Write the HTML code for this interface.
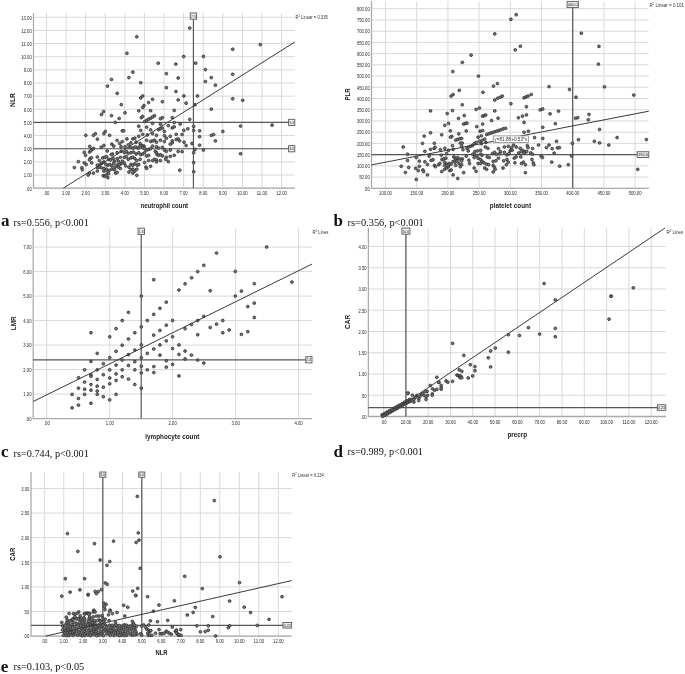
<!DOCTYPE html><html><head><meta charset="utf-8"><style>
html,body{margin:0;padding:0;background:#fff;width:685px;height:674px;overflow:hidden}
svg{display:block;filter:blur(0.3px)}
text{font-family:"Liberation Sans",sans-serif}
.tk{font-size:5px;fill:#262626}
.rl{font-size:4.4px;fill:#222}
.eq{font-size:5.6px;fill:#333}
.r2{font-size:4.6px;fill:#333}
.at{font-size:6.4px;font-weight:bold;fill:#222}
.cl{font-family:"Liberation Serif",serif;font-size:17px;font-weight:bold;fill:#111}
.ct{font-family:"Liberation Serif",serif;font-size:11px;fill:#111}
</style></head><body><svg width="685" height="674" viewBox="0 0 685 674">
<rect width="100%" height="100%" fill="#fff"/>
<line x1="46.5" y1="13" x2="46.5" y2="188.2" stroke="#d9d9d9" stroke-width="1"/>
<line x1="66.09" y1="13" x2="66.09" y2="188.2" stroke="#d9d9d9" stroke-width="1"/>
<line x1="85.68" y1="13" x2="85.68" y2="188.2" stroke="#d9d9d9" stroke-width="1"/>
<line x1="105.27" y1="13" x2="105.27" y2="188.2" stroke="#d9d9d9" stroke-width="1"/>
<line x1="124.86" y1="13" x2="124.86" y2="188.2" stroke="#d9d9d9" stroke-width="1"/>
<line x1="144.45" y1="13" x2="144.45" y2="188.2" stroke="#d9d9d9" stroke-width="1"/>
<line x1="164.04" y1="13" x2="164.04" y2="188.2" stroke="#d9d9d9" stroke-width="1"/>
<line x1="183.63" y1="13" x2="183.63" y2="188.2" stroke="#d9d9d9" stroke-width="1"/>
<line x1="203.22" y1="13" x2="203.22" y2="188.2" stroke="#d9d9d9" stroke-width="1"/>
<line x1="222.81" y1="13" x2="222.81" y2="188.2" stroke="#d9d9d9" stroke-width="1"/>
<line x1="242.4" y1="13" x2="242.4" y2="188.2" stroke="#d9d9d9" stroke-width="1"/>
<line x1="261.99" y1="13" x2="261.99" y2="188.2" stroke="#d9d9d9" stroke-width="1"/>
<line x1="281.58" y1="13" x2="281.58" y2="188.2" stroke="#d9d9d9" stroke-width="1"/>
<line x1="33.5" y1="188.2" x2="294.8" y2="188.2" stroke="#d9d9d9" stroke-width="1"/>
<line x1="33.5" y1="175.05" x2="294.8" y2="175.05" stroke="#d9d9d9" stroke-width="1"/>
<line x1="33.5" y1="161.9" x2="294.8" y2="161.9" stroke="#d9d9d9" stroke-width="1"/>
<line x1="33.5" y1="148.75" x2="294.8" y2="148.75" stroke="#d9d9d9" stroke-width="1"/>
<line x1="33.5" y1="135.6" x2="294.8" y2="135.6" stroke="#d9d9d9" stroke-width="1"/>
<line x1="33.5" y1="122.45" x2="294.8" y2="122.45" stroke="#d9d9d9" stroke-width="1"/>
<line x1="33.5" y1="109.3" x2="294.8" y2="109.3" stroke="#d9d9d9" stroke-width="1"/>
<line x1="33.5" y1="96.15" x2="294.8" y2="96.15" stroke="#d9d9d9" stroke-width="1"/>
<line x1="33.5" y1="83" x2="294.8" y2="83" stroke="#d9d9d9" stroke-width="1"/>
<line x1="33.5" y1="69.85" x2="294.8" y2="69.85" stroke="#d9d9d9" stroke-width="1"/>
<line x1="33.5" y1="56.7" x2="294.8" y2="56.7" stroke="#d9d9d9" stroke-width="1"/>
<line x1="33.5" y1="43.55" x2="294.8" y2="43.55" stroke="#d9d9d9" stroke-width="1"/>
<line x1="33.5" y1="30.4" x2="294.8" y2="30.4" stroke="#d9d9d9" stroke-width="1"/>
<line x1="33.5" y1="17.25" x2="294.8" y2="17.25" stroke="#d9d9d9" stroke-width="1"/>
<path d="M33.5 13 V188.2 H294.8" fill="none" stroke="#ababab" stroke-width="1.3"/>
<text x="43.58" y="194.9" class="tk" textLength="5.84" lengthAdjust="spacingAndGlyphs">.00</text>
<text x="62" y="194.9" class="tk" textLength="8.17" lengthAdjust="spacingAndGlyphs">1.00</text>
<text x="81.59" y="194.9" class="tk" textLength="8.17" lengthAdjust="spacingAndGlyphs">2.00</text>
<text x="101.18" y="194.9" class="tk" textLength="8.17" lengthAdjust="spacingAndGlyphs">3.00</text>
<text x="120.77" y="194.9" class="tk" textLength="8.17" lengthAdjust="spacingAndGlyphs">4.00</text>
<text x="140.36" y="194.9" class="tk" textLength="8.17" lengthAdjust="spacingAndGlyphs">5.00</text>
<text x="159.95" y="194.9" class="tk" textLength="8.17" lengthAdjust="spacingAndGlyphs">6.00</text>
<text x="179.54" y="194.9" class="tk" textLength="8.17" lengthAdjust="spacingAndGlyphs">7.00</text>
<text x="199.13" y="194.9" class="tk" textLength="8.17" lengthAdjust="spacingAndGlyphs">8.00</text>
<text x="218.72" y="194.9" class="tk" textLength="8.17" lengthAdjust="spacingAndGlyphs">9.00</text>
<text x="237.15" y="194.9" class="tk" textLength="10.51" lengthAdjust="spacingAndGlyphs">10.00</text>
<text x="256.74" y="194.9" class="tk" textLength="10.51" lengthAdjust="spacingAndGlyphs">11.00</text>
<text x="276.33" y="194.9" class="tk" textLength="10.51" lengthAdjust="spacingAndGlyphs">12.00</text>
<text x="25.96" y="190.5" class="tk" textLength="5.84" lengthAdjust="spacingAndGlyphs">.00</text>
<text x="23.63" y="177.35" class="tk" textLength="8.17" lengthAdjust="spacingAndGlyphs">1.00</text>
<text x="23.63" y="164.2" class="tk" textLength="8.17" lengthAdjust="spacingAndGlyphs">2.00</text>
<text x="23.63" y="151.05" class="tk" textLength="8.17" lengthAdjust="spacingAndGlyphs">3.00</text>
<text x="23.63" y="137.9" class="tk" textLength="8.17" lengthAdjust="spacingAndGlyphs">4.00</text>
<text x="23.63" y="124.75" class="tk" textLength="8.17" lengthAdjust="spacingAndGlyphs">5.00</text>
<text x="23.63" y="111.6" class="tk" textLength="8.17" lengthAdjust="spacingAndGlyphs">6.00</text>
<text x="23.63" y="98.45" class="tk" textLength="8.17" lengthAdjust="spacingAndGlyphs">7.00</text>
<text x="23.63" y="85.3" class="tk" textLength="8.17" lengthAdjust="spacingAndGlyphs">8.00</text>
<text x="23.63" y="72.15" class="tk" textLength="8.17" lengthAdjust="spacingAndGlyphs">9.00</text>
<text x="21.29" y="59" class="tk" textLength="10.51" lengthAdjust="spacingAndGlyphs">10.00</text>
<text x="21.29" y="45.85" class="tk" textLength="10.51" lengthAdjust="spacingAndGlyphs">11.00</text>
<text x="21.29" y="32.7" class="tk" textLength="10.51" lengthAdjust="spacingAndGlyphs">12.00</text>
<text x="21.29" y="19.55" class="tk" textLength="10.51" lengthAdjust="spacingAndGlyphs">13.00</text>
<line x1="385.5" y1="1.3" x2="385.5" y2="188.3" stroke="#d9d9d9" stroke-width="1"/>
<line x1="416.7" y1="1.3" x2="416.7" y2="188.3" stroke="#d9d9d9" stroke-width="1"/>
<line x1="447.9" y1="1.3" x2="447.9" y2="188.3" stroke="#d9d9d9" stroke-width="1"/>
<line x1="479.1" y1="1.3" x2="479.1" y2="188.3" stroke="#d9d9d9" stroke-width="1"/>
<line x1="510.3" y1="1.3" x2="510.3" y2="188.3" stroke="#d9d9d9" stroke-width="1"/>
<line x1="541.5" y1="1.3" x2="541.5" y2="188.3" stroke="#d9d9d9" stroke-width="1"/>
<line x1="572.7" y1="1.3" x2="572.7" y2="188.3" stroke="#d9d9d9" stroke-width="1"/>
<line x1="603.9" y1="1.3" x2="603.9" y2="188.3" stroke="#d9d9d9" stroke-width="1"/>
<line x1="635.1" y1="1.3" x2="635.1" y2="188.3" stroke="#d9d9d9" stroke-width="1"/>
<line x1="371.5" y1="188.3" x2="648.8" y2="188.3" stroke="#d9d9d9" stroke-width="1"/>
<line x1="371.5" y1="177.08" x2="648.8" y2="177.08" stroke="#d9d9d9" stroke-width="1"/>
<line x1="371.5" y1="165.85" x2="648.8" y2="165.85" stroke="#d9d9d9" stroke-width="1"/>
<line x1="371.5" y1="154.62" x2="648.8" y2="154.62" stroke="#d9d9d9" stroke-width="1"/>
<line x1="371.5" y1="143.4" x2="648.8" y2="143.4" stroke="#d9d9d9" stroke-width="1"/>
<line x1="371.5" y1="132.18" x2="648.8" y2="132.18" stroke="#d9d9d9" stroke-width="1"/>
<line x1="371.5" y1="120.95" x2="648.8" y2="120.95" stroke="#d9d9d9" stroke-width="1"/>
<line x1="371.5" y1="109.73" x2="648.8" y2="109.73" stroke="#d9d9d9" stroke-width="1"/>
<line x1="371.5" y1="98.5" x2="648.8" y2="98.5" stroke="#d9d9d9" stroke-width="1"/>
<line x1="371.5" y1="87.28" x2="648.8" y2="87.28" stroke="#d9d9d9" stroke-width="1"/>
<line x1="371.5" y1="76.05" x2="648.8" y2="76.05" stroke="#d9d9d9" stroke-width="1"/>
<line x1="371.5" y1="64.83" x2="648.8" y2="64.83" stroke="#d9d9d9" stroke-width="1"/>
<line x1="371.5" y1="53.6" x2="648.8" y2="53.6" stroke="#d9d9d9" stroke-width="1"/>
<line x1="371.5" y1="42.38" x2="648.8" y2="42.38" stroke="#d9d9d9" stroke-width="1"/>
<line x1="371.5" y1="31.15" x2="648.8" y2="31.15" stroke="#d9d9d9" stroke-width="1"/>
<line x1="371.5" y1="19.93" x2="648.8" y2="19.93" stroke="#d9d9d9" stroke-width="1"/>
<line x1="371.5" y1="8.7" x2="648.8" y2="8.7" stroke="#d9d9d9" stroke-width="1"/>
<path d="M371.5 1.3 V188.3 H648.8" fill="none" stroke="#ababab" stroke-width="1.3"/>
<text x="379.08" y="195" class="tk" textLength="12.84" lengthAdjust="spacingAndGlyphs">100.00</text>
<text x="410.28" y="195" class="tk" textLength="12.84" lengthAdjust="spacingAndGlyphs">150.00</text>
<text x="441.48" y="195" class="tk" textLength="12.84" lengthAdjust="spacingAndGlyphs">200.00</text>
<text x="472.68" y="195" class="tk" textLength="12.84" lengthAdjust="spacingAndGlyphs">250.00</text>
<text x="503.88" y="195" class="tk" textLength="12.84" lengthAdjust="spacingAndGlyphs">300.00</text>
<text x="535.08" y="195" class="tk" textLength="12.84" lengthAdjust="spacingAndGlyphs">350.00</text>
<text x="566.28" y="195" class="tk" textLength="12.84" lengthAdjust="spacingAndGlyphs">400.00</text>
<text x="597.48" y="195" class="tk" textLength="12.84" lengthAdjust="spacingAndGlyphs">450.00</text>
<text x="628.68" y="195" class="tk" textLength="12.84" lengthAdjust="spacingAndGlyphs">500.00</text>
<text x="363.96" y="190.6" class="tk" textLength="5.84" lengthAdjust="spacingAndGlyphs">.00</text>
<text x="359.29" y="179.38" class="tk" textLength="10.51" lengthAdjust="spacingAndGlyphs">50.00</text>
<text x="356.96" y="168.15" class="tk" textLength="12.84" lengthAdjust="spacingAndGlyphs">100.00</text>
<text x="356.96" y="156.93" class="tk" textLength="12.84" lengthAdjust="spacingAndGlyphs">150.00</text>
<text x="356.96" y="145.7" class="tk" textLength="12.84" lengthAdjust="spacingAndGlyphs">200.00</text>
<text x="356.96" y="134.48" class="tk" textLength="12.84" lengthAdjust="spacingAndGlyphs">250.00</text>
<text x="356.96" y="123.25" class="tk" textLength="12.84" lengthAdjust="spacingAndGlyphs">300.00</text>
<text x="356.96" y="112.03" class="tk" textLength="12.84" lengthAdjust="spacingAndGlyphs">350.00</text>
<text x="356.96" y="100.8" class="tk" textLength="12.84" lengthAdjust="spacingAndGlyphs">400.00</text>
<text x="356.96" y="89.58" class="tk" textLength="12.84" lengthAdjust="spacingAndGlyphs">450.00</text>
<text x="356.96" y="78.35" class="tk" textLength="12.84" lengthAdjust="spacingAndGlyphs">500.00</text>
<text x="356.96" y="67.12" class="tk" textLength="12.84" lengthAdjust="spacingAndGlyphs">550.00</text>
<text x="356.96" y="55.9" class="tk" textLength="12.84" lengthAdjust="spacingAndGlyphs">600.00</text>
<text x="356.96" y="44.67" class="tk" textLength="12.84" lengthAdjust="spacingAndGlyphs">650.00</text>
<text x="356.96" y="33.45" class="tk" textLength="12.84" lengthAdjust="spacingAndGlyphs">700.00</text>
<text x="356.96" y="22.23" class="tk" textLength="12.84" lengthAdjust="spacingAndGlyphs">750.00</text>
<text x="356.96" y="11" class="tk" textLength="12.84" lengthAdjust="spacingAndGlyphs">800.00</text>
<line x1="46.8" y1="228.2" x2="46.8" y2="418.6" stroke="#d9d9d9" stroke-width="1"/>
<line x1="109.75" y1="228.2" x2="109.75" y2="418.6" stroke="#d9d9d9" stroke-width="1"/>
<line x1="172.7" y1="228.2" x2="172.7" y2="418.6" stroke="#d9d9d9" stroke-width="1"/>
<line x1="235.65" y1="228.2" x2="235.65" y2="418.6" stroke="#d9d9d9" stroke-width="1"/>
<line x1="298.6" y1="228.2" x2="298.6" y2="418.6" stroke="#d9d9d9" stroke-width="1"/>
<line x1="33.2" y1="418.6" x2="312" y2="418.6" stroke="#d9d9d9" stroke-width="1"/>
<line x1="33.2" y1="394.1" x2="312" y2="394.1" stroke="#d9d9d9" stroke-width="1"/>
<line x1="33.2" y1="369.6" x2="312" y2="369.6" stroke="#d9d9d9" stroke-width="1"/>
<line x1="33.2" y1="345.1" x2="312" y2="345.1" stroke="#d9d9d9" stroke-width="1"/>
<line x1="33.2" y1="320.6" x2="312" y2="320.6" stroke="#d9d9d9" stroke-width="1"/>
<line x1="33.2" y1="296.1" x2="312" y2="296.1" stroke="#d9d9d9" stroke-width="1"/>
<line x1="33.2" y1="271.6" x2="312" y2="271.6" stroke="#d9d9d9" stroke-width="1"/>
<line x1="33.2" y1="247.1" x2="312" y2="247.1" stroke="#d9d9d9" stroke-width="1"/>
<path d="M33.2 228.2 V418.6 H312" fill="none" stroke="#ababab" stroke-width="1.3"/>
<text x="43.88" y="425.3" class="tk" textLength="5.84" lengthAdjust="spacingAndGlyphs">.00</text>
<text x="105.66" y="425.3" class="tk" textLength="8.17" lengthAdjust="spacingAndGlyphs">1.00</text>
<text x="168.61" y="425.3" class="tk" textLength="8.17" lengthAdjust="spacingAndGlyphs">2.00</text>
<text x="231.56" y="425.3" class="tk" textLength="8.17" lengthAdjust="spacingAndGlyphs">3.00</text>
<text x="294.51" y="425.3" class="tk" textLength="8.17" lengthAdjust="spacingAndGlyphs">4.00</text>
<text x="25.66" y="420.9" class="tk" textLength="5.84" lengthAdjust="spacingAndGlyphs">.00</text>
<text x="23.33" y="396.4" class="tk" textLength="8.17" lengthAdjust="spacingAndGlyphs">1.00</text>
<text x="23.33" y="371.9" class="tk" textLength="8.17" lengthAdjust="spacingAndGlyphs">2.00</text>
<text x="23.33" y="347.4" class="tk" textLength="8.17" lengthAdjust="spacingAndGlyphs">3.00</text>
<text x="23.33" y="322.9" class="tk" textLength="8.17" lengthAdjust="spacingAndGlyphs">4.00</text>
<text x="23.33" y="298.4" class="tk" textLength="8.17" lengthAdjust="spacingAndGlyphs">5.00</text>
<text x="23.33" y="273.9" class="tk" textLength="8.17" lengthAdjust="spacingAndGlyphs">6.00</text>
<text x="23.33" y="249.4" class="tk" textLength="8.17" lengthAdjust="spacingAndGlyphs">7.00</text>
<line x1="383.6" y1="228" x2="383.6" y2="416.5" stroke="#d9d9d9" stroke-width="1"/>
<line x1="405.9" y1="228" x2="405.9" y2="416.5" stroke="#d9d9d9" stroke-width="1"/>
<line x1="428.2" y1="228" x2="428.2" y2="416.5" stroke="#d9d9d9" stroke-width="1"/>
<line x1="450.5" y1="228" x2="450.5" y2="416.5" stroke="#d9d9d9" stroke-width="1"/>
<line x1="472.8" y1="228" x2="472.8" y2="416.5" stroke="#d9d9d9" stroke-width="1"/>
<line x1="495.1" y1="228" x2="495.1" y2="416.5" stroke="#d9d9d9" stroke-width="1"/>
<line x1="517.4" y1="228" x2="517.4" y2="416.5" stroke="#d9d9d9" stroke-width="1"/>
<line x1="539.7" y1="228" x2="539.7" y2="416.5" stroke="#d9d9d9" stroke-width="1"/>
<line x1="562" y1="228" x2="562" y2="416.5" stroke="#d9d9d9" stroke-width="1"/>
<line x1="584.3" y1="228" x2="584.3" y2="416.5" stroke="#d9d9d9" stroke-width="1"/>
<line x1="606.6" y1="228" x2="606.6" y2="416.5" stroke="#d9d9d9" stroke-width="1"/>
<line x1="628.9" y1="228" x2="628.9" y2="416.5" stroke="#d9d9d9" stroke-width="1"/>
<line x1="651.2" y1="228" x2="651.2" y2="416.5" stroke="#d9d9d9" stroke-width="1"/>
<line x1="368.4" y1="416.5" x2="665.8" y2="416.5" stroke="#d9d9d9" stroke-width="1"/>
<line x1="368.4" y1="395.25" x2="665.8" y2="395.25" stroke="#d9d9d9" stroke-width="1"/>
<line x1="368.4" y1="374" x2="665.8" y2="374" stroke="#d9d9d9" stroke-width="1"/>
<line x1="368.4" y1="352.75" x2="665.8" y2="352.75" stroke="#d9d9d9" stroke-width="1"/>
<line x1="368.4" y1="331.5" x2="665.8" y2="331.5" stroke="#d9d9d9" stroke-width="1"/>
<line x1="368.4" y1="310.25" x2="665.8" y2="310.25" stroke="#d9d9d9" stroke-width="1"/>
<line x1="368.4" y1="289" x2="665.8" y2="289" stroke="#d9d9d9" stroke-width="1"/>
<line x1="368.4" y1="267.75" x2="665.8" y2="267.75" stroke="#d9d9d9" stroke-width="1"/>
<line x1="368.4" y1="246.5" x2="665.8" y2="246.5" stroke="#d9d9d9" stroke-width="1"/>
<path d="M368.4 228 V416.5 H665.8" fill="none" stroke="#ababab" stroke-width="1.3"/>
<text x="380.68" y="424" class="tk" textLength="5.84" lengthAdjust="spacingAndGlyphs">.00</text>
<text x="400.65" y="424" class="tk" textLength="10.51" lengthAdjust="spacingAndGlyphs">10.00</text>
<text x="422.95" y="424" class="tk" textLength="10.51" lengthAdjust="spacingAndGlyphs">20.00</text>
<text x="445.25" y="424" class="tk" textLength="10.51" lengthAdjust="spacingAndGlyphs">30.00</text>
<text x="467.55" y="424" class="tk" textLength="10.51" lengthAdjust="spacingAndGlyphs">40.00</text>
<text x="489.85" y="424" class="tk" textLength="10.51" lengthAdjust="spacingAndGlyphs">50.00</text>
<text x="512.15" y="424" class="tk" textLength="10.51" lengthAdjust="spacingAndGlyphs">60.00</text>
<text x="534.45" y="424" class="tk" textLength="10.51" lengthAdjust="spacingAndGlyphs">70.00</text>
<text x="556.75" y="424" class="tk" textLength="10.51" lengthAdjust="spacingAndGlyphs">80.00</text>
<text x="579.05" y="424" class="tk" textLength="10.51" lengthAdjust="spacingAndGlyphs">90.00</text>
<text x="600.18" y="424" class="tk" textLength="12.84" lengthAdjust="spacingAndGlyphs">100.00</text>
<text x="622.48" y="424" class="tk" textLength="12.84" lengthAdjust="spacingAndGlyphs">110.00</text>
<text x="644.78" y="424" class="tk" textLength="12.84" lengthAdjust="spacingAndGlyphs">120.00</text>
<text x="360.86" y="418.8" class="tk" textLength="5.84" lengthAdjust="spacingAndGlyphs">.00</text>
<text x="360.86" y="397.55" class="tk" textLength="5.84" lengthAdjust="spacingAndGlyphs">.50</text>
<text x="358.53" y="376.3" class="tk" textLength="8.17" lengthAdjust="spacingAndGlyphs">1.00</text>
<text x="358.53" y="355.05" class="tk" textLength="8.17" lengthAdjust="spacingAndGlyphs">1.50</text>
<text x="358.53" y="333.8" class="tk" textLength="8.17" lengthAdjust="spacingAndGlyphs">2.00</text>
<text x="358.53" y="312.55" class="tk" textLength="8.17" lengthAdjust="spacingAndGlyphs">2.50</text>
<text x="358.53" y="291.3" class="tk" textLength="8.17" lengthAdjust="spacingAndGlyphs">3.00</text>
<text x="358.53" y="270.05" class="tk" textLength="8.17" lengthAdjust="spacingAndGlyphs">3.50</text>
<text x="358.53" y="248.8" class="tk" textLength="8.17" lengthAdjust="spacingAndGlyphs">4.00</text>
<line x1="44.3" y1="472" x2="44.3" y2="636.1" stroke="#d9d9d9" stroke-width="1"/>
<line x1="63.8" y1="472" x2="63.8" y2="636.1" stroke="#d9d9d9" stroke-width="1"/>
<line x1="83.3" y1="472" x2="83.3" y2="636.1" stroke="#d9d9d9" stroke-width="1"/>
<line x1="102.8" y1="472" x2="102.8" y2="636.1" stroke="#d9d9d9" stroke-width="1"/>
<line x1="122.3" y1="472" x2="122.3" y2="636.1" stroke="#d9d9d9" stroke-width="1"/>
<line x1="141.8" y1="472" x2="141.8" y2="636.1" stroke="#d9d9d9" stroke-width="1"/>
<line x1="161.3" y1="472" x2="161.3" y2="636.1" stroke="#d9d9d9" stroke-width="1"/>
<line x1="180.8" y1="472" x2="180.8" y2="636.1" stroke="#d9d9d9" stroke-width="1"/>
<line x1="200.3" y1="472" x2="200.3" y2="636.1" stroke="#d9d9d9" stroke-width="1"/>
<line x1="219.8" y1="472" x2="219.8" y2="636.1" stroke="#d9d9d9" stroke-width="1"/>
<line x1="239.3" y1="472" x2="239.3" y2="636.1" stroke="#d9d9d9" stroke-width="1"/>
<line x1="258.8" y1="472" x2="258.8" y2="636.1" stroke="#d9d9d9" stroke-width="1"/>
<line x1="278.3" y1="472" x2="278.3" y2="636.1" stroke="#d9d9d9" stroke-width="1"/>
<line x1="31" y1="636.1" x2="291.6" y2="636.1" stroke="#d9d9d9" stroke-width="1"/>
<line x1="31" y1="611.5" x2="291.6" y2="611.5" stroke="#d9d9d9" stroke-width="1"/>
<line x1="31" y1="586.9" x2="291.6" y2="586.9" stroke="#d9d9d9" stroke-width="1"/>
<line x1="31" y1="562.3" x2="291.6" y2="562.3" stroke="#d9d9d9" stroke-width="1"/>
<line x1="31" y1="537.7" x2="291.6" y2="537.7" stroke="#d9d9d9" stroke-width="1"/>
<line x1="31" y1="513.1" x2="291.6" y2="513.1" stroke="#d9d9d9" stroke-width="1"/>
<line x1="31" y1="488.5" x2="291.6" y2="488.5" stroke="#d9d9d9" stroke-width="1"/>
<path d="M31 472 V636.1 H291.6" fill="none" stroke="#ababab" stroke-width="1.3"/>
<text x="41.38" y="642.8" class="tk" textLength="5.84" lengthAdjust="spacingAndGlyphs">.00</text>
<text x="59.71" y="642.8" class="tk" textLength="8.17" lengthAdjust="spacingAndGlyphs">1.00</text>
<text x="79.21" y="642.8" class="tk" textLength="8.17" lengthAdjust="spacingAndGlyphs">2.00</text>
<text x="98.71" y="642.8" class="tk" textLength="8.17" lengthAdjust="spacingAndGlyphs">3.00</text>
<text x="118.21" y="642.8" class="tk" textLength="8.17" lengthAdjust="spacingAndGlyphs">4.00</text>
<text x="137.71" y="642.8" class="tk" textLength="8.17" lengthAdjust="spacingAndGlyphs">5.00</text>
<text x="157.21" y="642.8" class="tk" textLength="8.17" lengthAdjust="spacingAndGlyphs">6.00</text>
<text x="176.71" y="642.8" class="tk" textLength="8.17" lengthAdjust="spacingAndGlyphs">7.00</text>
<text x="196.21" y="642.8" class="tk" textLength="8.17" lengthAdjust="spacingAndGlyphs">8.00</text>
<text x="215.71" y="642.8" class="tk" textLength="8.17" lengthAdjust="spacingAndGlyphs">9.00</text>
<text x="234.05" y="642.8" class="tk" textLength="10.51" lengthAdjust="spacingAndGlyphs">10.00</text>
<text x="253.55" y="642.8" class="tk" textLength="10.51" lengthAdjust="spacingAndGlyphs">11.00</text>
<text x="273.05" y="642.8" class="tk" textLength="10.51" lengthAdjust="spacingAndGlyphs">12.00</text>
<text x="23.46" y="638.4" class="tk" textLength="5.84" lengthAdjust="spacingAndGlyphs">.00</text>
<text x="23.46" y="613.8" class="tk" textLength="5.84" lengthAdjust="spacingAndGlyphs">.50</text>
<text x="21.13" y="589.2" class="tk" textLength="8.17" lengthAdjust="spacingAndGlyphs">1.00</text>
<text x="21.13" y="564.6" class="tk" textLength="8.17" lengthAdjust="spacingAndGlyphs">1.50</text>
<text x="21.13" y="540" class="tk" textLength="8.17" lengthAdjust="spacingAndGlyphs">2.00</text>
<text x="21.13" y="515.4" class="tk" textLength="8.17" lengthAdjust="spacingAndGlyphs">2.50</text>
<text x="21.13" y="490.8" class="tk" textLength="8.17" lengthAdjust="spacingAndGlyphs">3.00</text>
<line x1="33.5" y1="122.45" x2="288.6" y2="122.45" stroke="#575757" stroke-width="1.2"/>
<line x1="33.5" y1="148.75" x2="288.6" y2="148.75" stroke="#575757" stroke-width="1.2"/>
<line x1="193.43" y1="19.2" x2="193.43" y2="188.2" stroke="#575757" stroke-width="1.2"/>
<line x1="371.5" y1="154.62" x2="637.2" y2="154.62" stroke="#575757" stroke-width="1.2"/>
<line x1="572.7" y1="7.6" x2="572.7" y2="188.3" stroke="#575757" stroke-width="1.2"/>
<line x1="33.2" y1="359.8" x2="305.8" y2="359.8" stroke="#575757" stroke-width="1.2"/>
<line x1="141.23" y1="234.4" x2="141.23" y2="418.6" stroke="#575757" stroke-width="1.2"/>
<line x1="368.4" y1="407.57" x2="657.3" y2="407.57" stroke="#575757" stroke-width="1.2"/>
<line x1="405.9" y1="234.2" x2="405.9" y2="416.5" stroke="#575757" stroke-width="1.2"/>
<line x1="31" y1="625.28" x2="282.9" y2="625.28" stroke="#575757" stroke-width="1.2"/>
<line x1="102.8" y1="477.3" x2="102.8" y2="636.1" stroke="#575757" stroke-width="1.2"/>
<line x1="141.8" y1="477.3" x2="141.8" y2="636.1" stroke="#575757" stroke-width="1.2"/>
<g fill="#7a7a7a" stroke="#2c2c2c" stroke-width="0.8">
<circle cx="136.8" cy="36.78" r="1.4"/>
<circle cx="126.94" cy="53.34" r="1.4"/>
<circle cx="189.74" cy="28.11" r="1.4"/>
<circle cx="183.7" cy="56.49" r="1.4"/>
<circle cx="203.41" cy="56.49" r="1.4"/>
<circle cx="158.21" cy="63.19" r="1.4"/>
<circle cx="175.82" cy="64.11" r="1.4"/>
<circle cx="195.66" cy="63.19" r="1.4"/>
<circle cx="205.38" cy="69.63" r="1.4"/>
<circle cx="132.85" cy="72.12" r="1.4"/>
<circle cx="232.71" cy="49.26" r="1.4"/>
<circle cx="260.3" cy="44.66" r="1.4"/>
<circle cx="111.44" cy="79.44" r="1.4"/>
<circle cx="107.5" cy="86.14" r="1.4"/>
<circle cx="117.22" cy="93.36" r="1.4"/>
<circle cx="121.29" cy="104.66" r="1.4"/>
<circle cx="103.55" cy="111.63" r="1.4"/>
<circle cx="101.45" cy="114.52" r="1.4"/>
<circle cx="111.44" cy="115.7" r="1.4"/>
<circle cx="119.19" cy="118.46" r="1.4"/>
<circle cx="115.25" cy="122.4" r="1.4"/>
<circle cx="105.26" cy="131.47" r="1.4"/>
<circle cx="122.34" cy="130.81" r="1.4"/>
<circle cx="128.91" cy="77.6" r="1.4"/>
<circle cx="140.74" cy="82.72" r="1.4"/>
<circle cx="166.36" cy="73.66" r="1.4"/>
<circle cx="178.18" cy="77.99" r="1.4"/>
<circle cx="205.38" cy="81.54" r="1.4"/>
<circle cx="211.29" cy="77.6" r="1.4"/>
<circle cx="166.36" cy="87.72" r="1.4"/>
<circle cx="175.95" cy="91.53" r="1.4"/>
<circle cx="183.83" cy="95.99" r="1.4"/>
<circle cx="197.5" cy="95.99" r="1.4"/>
<circle cx="140.74" cy="97.96" r="1.4"/>
<circle cx="142.71" cy="95.99" r="1.4"/>
<circle cx="152.56" cy="99.28" r="1.4"/>
<circle cx="148.62" cy="102.56" r="1.4"/>
<circle cx="162.42" cy="101.64" r="1.4"/>
<circle cx="178.18" cy="99.93" r="1.4"/>
<circle cx="186.07" cy="103.22" r="1.4"/>
<circle cx="144.02" cy="105.58" r="1.4"/>
<circle cx="142.71" cy="107.42" r="1.4"/>
<circle cx="195" cy="104.8" r="1.4"/>
<circle cx="211.29" cy="109.13" r="1.4"/>
<circle cx="124.97" cy="112.81" r="1.4"/>
<circle cx="138.77" cy="110.84" r="1.4"/>
<circle cx="150.59" cy="110.71" r="1.4"/>
<circle cx="174.24" cy="110.45" r="1.4"/>
<circle cx="141.39" cy="117.67" r="1.4"/>
<circle cx="142.71" cy="116.36" r="1.4"/>
<circle cx="144.68" cy="121.61" r="1.4"/>
<circle cx="146.65" cy="120.3" r="1.4"/>
<circle cx="148.62" cy="119.25" r="1.4"/>
<circle cx="150.59" cy="118.33" r="1.4"/>
<circle cx="152.56" cy="117.01" r="1.4"/>
<circle cx="154.53" cy="115.7" r="1.4"/>
<circle cx="160.45" cy="118.72" r="1.4"/>
<circle cx="162.42" cy="117.67" r="1.4"/>
<circle cx="172.27" cy="117.67" r="1.4"/>
<circle cx="189.74" cy="119.38" r="1.4"/>
<circle cx="152.56" cy="123.32" r="1.4"/>
<circle cx="160.45" cy="124.24" r="1.4"/>
<circle cx="174.24" cy="122.53" r="1.4"/>
<circle cx="180.15" cy="123.98" r="1.4"/>
<circle cx="138.77" cy="126.21" r="1.4"/>
<circle cx="146.65" cy="127.13" r="1.4"/>
<circle cx="168.33" cy="125.55" r="1.4"/>
<circle cx="172.27" cy="127.92" r="1.4"/>
<circle cx="174.24" cy="126.87" r="1.4"/>
<circle cx="140.74" cy="130.42" r="1.4"/>
<circle cx="150.59" cy="129.89" r="1.4"/>
<circle cx="158.47" cy="129.76" r="1.4"/>
<circle cx="160.45" cy="128.84" r="1.4"/>
<circle cx="162.42" cy="128.18" r="1.4"/>
<circle cx="164.39" cy="131.47" r="1.4"/>
<circle cx="183.83" cy="130.42" r="1.4"/>
<circle cx="187.77" cy="128.84" r="1.4"/>
<circle cx="193.69" cy="126.47" r="1.4"/>
<circle cx="193.69" cy="130.42" r="1.4"/>
<circle cx="199.6" cy="130.81" r="1.4"/>
<circle cx="123.66" cy="130.81" r="1.4"/>
<circle cx="232.71" cy="74.31" r="1.4"/>
<circle cx="215.36" cy="85.22" r="1.4"/>
<circle cx="232.71" cy="98.75" r="1.4"/>
<circle cx="242.69" cy="100.33" r="1.4"/>
<circle cx="240.59" cy="126.08" r="1.4"/>
<circle cx="272.12" cy="125.16" r="1.4"/>
<circle cx="222.85" cy="131.47" r="1.4"/>
<circle cx="85.82" cy="135.36" r="1.4"/>
<circle cx="93.44" cy="135.36" r="1.4"/>
<circle cx="95.41" cy="133.66" r="1.4"/>
<circle cx="103.95" cy="133.66" r="1.4"/>
<circle cx="109.6" cy="135.36" r="1.4"/>
<circle cx="97.38" cy="139.18" r="1.4"/>
<circle cx="117.09" cy="140.49" r="1.4"/>
<circle cx="122.34" cy="141.54" r="1.4"/>
<circle cx="89.76" cy="146.4" r="1.4"/>
<circle cx="93.44" cy="148.5" r="1.4"/>
<circle cx="92.12" cy="149.42" r="1.4"/>
<circle cx="101.32" cy="147.19" r="1.4"/>
<circle cx="103.95" cy="145.48" r="1.4"/>
<circle cx="111.83" cy="144.17" r="1.4"/>
<circle cx="113.8" cy="146.14" r="1.4"/>
<circle cx="119.72" cy="143.51" r="1.4"/>
<circle cx="121.03" cy="146.8" r="1.4"/>
<circle cx="84.24" cy="152.31" r="1.4"/>
<circle cx="89.5" cy="152.05" r="1.4"/>
<circle cx="90.81" cy="150.74" r="1.4"/>
<circle cx="85.55" cy="155.34" r="1.4"/>
<circle cx="107.23" cy="151" r="1.4"/>
<circle cx="112.49" cy="154.02" r="1.4"/>
<circle cx="111.18" cy="154.68" r="1.4"/>
<circle cx="117.09" cy="152.71" r="1.4"/>
<circle cx="121.03" cy="151.39" r="1.4"/>
<circle cx="97.38" cy="157.04" r="1.4"/>
<circle cx="90.15" cy="158.62" r="1.4"/>
<circle cx="91.47" cy="157.7" r="1.4"/>
<circle cx="89.5" cy="159.93" r="1.4"/>
<circle cx="78.33" cy="161.64" r="1.4"/>
<circle cx="84.24" cy="162.96" r="1.4"/>
<circle cx="86.21" cy="164.53" r="1.4"/>
<circle cx="91.73" cy="162.96" r="1.4"/>
<circle cx="99.35" cy="160.59" r="1.4"/>
<circle cx="102.64" cy="157.96" r="1.4"/>
<circle cx="104.61" cy="157.31" r="1.4"/>
<circle cx="106.58" cy="156.65" r="1.4"/>
<circle cx="108.55" cy="159.28" r="1.4"/>
<circle cx="110.52" cy="159.93" r="1.4"/>
<circle cx="113.15" cy="158.62" r="1.4"/>
<circle cx="114.46" cy="161.25" r="1.4"/>
<circle cx="117.09" cy="158.62" r="1.4"/>
<circle cx="118.4" cy="161.25" r="1.4"/>
<circle cx="120.37" cy="157.31" r="1.4"/>
<circle cx="121.03" cy="163.88" r="1.4"/>
<circle cx="122.34" cy="161.25" r="1.4"/>
<circle cx="74.39" cy="167.55" r="1.4"/>
<circle cx="81.88" cy="167.82" r="1.4"/>
<circle cx="82.27" cy="169.79" r="1.4"/>
<circle cx="97.38" cy="165.19" r="1.4"/>
<circle cx="100.01" cy="164.53" r="1.4"/>
<circle cx="101.98" cy="163.22" r="1.4"/>
<circle cx="103.95" cy="161.91" r="1.4"/>
<circle cx="105.92" cy="164.53" r="1.4"/>
<circle cx="107.89" cy="165.19" r="1.4"/>
<circle cx="109.86" cy="164.53" r="1.4"/>
<circle cx="111.83" cy="165.85" r="1.4"/>
<circle cx="113.8" cy="163.22" r="1.4"/>
<circle cx="115.12" cy="167.16" r="1.4"/>
<circle cx="117.09" cy="165.19" r="1.4"/>
<circle cx="119.06" cy="164.53" r="1.4"/>
<circle cx="97.38" cy="167.82" r="1.4"/>
<circle cx="99.35" cy="167.16" r="1.4"/>
<circle cx="101.32" cy="167.82" r="1.4"/>
<circle cx="103.95" cy="168.47" r="1.4"/>
<circle cx="106.58" cy="169.13" r="1.4"/>
<circle cx="109.2" cy="170.45" r="1.4"/>
<circle cx="111.83" cy="169.13" r="1.4"/>
<circle cx="114.46" cy="169.79" r="1.4"/>
<circle cx="97.38" cy="171.1" r="1.4"/>
<circle cx="103.95" cy="171.1" r="1.4"/>
<circle cx="107.89" cy="171.76" r="1.4"/>
<circle cx="108.55" cy="173.73" r="1.4"/>
<circle cx="89.5" cy="173.07" r="1.4"/>
<circle cx="88.18" cy="175.04" r="1.4"/>
<circle cx="93.44" cy="173.07" r="1.4"/>
<circle cx="115.77" cy="173.07" r="1.4"/>
<circle cx="117.09" cy="172.42" r="1.4"/>
<circle cx="103.29" cy="175.7" r="1.4"/>
<circle cx="104.61" cy="176.36" r="1.4"/>
<circle cx="105.92" cy="175.04" r="1.4"/>
<circle cx="107.89" cy="177.67" r="1.4"/>
<circle cx="118.4" cy="167.16" r="1.4"/>
<circle cx="120.37" cy="168.47" r="1.4"/>
<circle cx="138.77" cy="136.28" r="1.4"/>
<circle cx="142.71" cy="134.31" r="1.4"/>
<circle cx="147.31" cy="134.97" r="1.4"/>
<circle cx="152.56" cy="133.66" r="1.4"/>
<circle cx="156.5" cy="135.36" r="1.4"/>
<circle cx="164.39" cy="135.63" r="1.4"/>
<circle cx="166.36" cy="138.26" r="1.4"/>
<circle cx="170.3" cy="136.28" r="1.4"/>
<circle cx="176.21" cy="134.31" r="1.4"/>
<circle cx="182.12" cy="134.58" r="1.4"/>
<circle cx="199.6" cy="136.68" r="1.4"/>
<circle cx="211.29" cy="135.36" r="1.4"/>
<circle cx="126.94" cy="138.91" r="1.4"/>
<circle cx="132.85" cy="138.91" r="1.4"/>
<circle cx="134.82" cy="138.26" r="1.4"/>
<circle cx="146.65" cy="140.23" r="1.4"/>
<circle cx="150.59" cy="141.54" r="1.4"/>
<circle cx="152.56" cy="140.88" r="1.4"/>
<circle cx="154.53" cy="140.23" r="1.4"/>
<circle cx="156.5" cy="142.2" r="1.4"/>
<circle cx="160.45" cy="140.23" r="1.4"/>
<circle cx="164.39" cy="141.54" r="1.4"/>
<circle cx="172.27" cy="140.88" r="1.4"/>
<circle cx="170.3" cy="144.17" r="1.4"/>
<circle cx="172.27" cy="142.85" r="1.4"/>
<circle cx="176.21" cy="139.57" r="1.4"/>
<circle cx="178.18" cy="138.91" r="1.4"/>
<circle cx="179.5" cy="140.88" r="1.4"/>
<circle cx="184.09" cy="142.2" r="1.4"/>
<circle cx="186.07" cy="145.48" r="1.4"/>
<circle cx="191.98" cy="143.51" r="1.4"/>
<circle cx="199.6" cy="145.22" r="1.4"/>
<circle cx="130.88" cy="142.85" r="1.4"/>
<circle cx="136.14" cy="142.2" r="1.4"/>
<circle cx="140.08" cy="143.51" r="1.4"/>
<circle cx="142.05" cy="145.48" r="1.4"/>
<circle cx="144.02" cy="146.14" r="1.4"/>
<circle cx="124.97" cy="146.8" r="1.4"/>
<circle cx="128.26" cy="144.82" r="1.4"/>
<circle cx="130.23" cy="147.45" r="1.4"/>
<circle cx="132.85" cy="148.11" r="1.4"/>
<circle cx="135.48" cy="146.8" r="1.4"/>
<circle cx="138.11" cy="148.11" r="1.4"/>
<circle cx="140.08" cy="146.14" r="1.4"/>
<circle cx="142.71" cy="147.45" r="1.4"/>
<circle cx="144.68" cy="148.77" r="1.4"/>
<circle cx="146.65" cy="150.08" r="1.4"/>
<circle cx="148.62" cy="149.42" r="1.4"/>
<circle cx="150.59" cy="148.77" r="1.4"/>
<circle cx="152.56" cy="146.14" r="1.4"/>
<circle cx="156.5" cy="146.8" r="1.4"/>
<circle cx="158.47" cy="148.11" r="1.4"/>
<circle cx="162.42" cy="147.45" r="1.4"/>
<circle cx="164.39" cy="150.08" r="1.4"/>
<circle cx="166.36" cy="151.39" r="1.4"/>
<circle cx="170.3" cy="150.08" r="1.4"/>
<circle cx="178.18" cy="151.39" r="1.4"/>
<circle cx="182.12" cy="151.66" r="1.4"/>
<circle cx="195" cy="149.42" r="1.4"/>
<circle cx="203.41" cy="150.08" r="1.4"/>
<circle cx="193.69" cy="152.71" r="1.4"/>
<circle cx="124.31" cy="152.71" r="1.4"/>
<circle cx="126.28" cy="151.39" r="1.4"/>
<circle cx="128.26" cy="153.36" r="1.4"/>
<circle cx="130.88" cy="152.71" r="1.4"/>
<circle cx="133.51" cy="152.05" r="1.4"/>
<circle cx="136.14" cy="154.02" r="1.4"/>
<circle cx="138.77" cy="152.71" r="1.4"/>
<circle cx="140.74" cy="154.68" r="1.4"/>
<circle cx="142.71" cy="154.02" r="1.4"/>
<circle cx="144.68" cy="152.71" r="1.4"/>
<circle cx="146.65" cy="155.99" r="1.4"/>
<circle cx="148.62" cy="155.34" r="1.4"/>
<circle cx="155.19" cy="151.39" r="1.4"/>
<circle cx="156.5" cy="152.71" r="1.4"/>
<circle cx="157.16" cy="154.68" r="1.4"/>
<circle cx="158.47" cy="155.34" r="1.4"/>
<circle cx="160.45" cy="154.68" r="1.4"/>
<circle cx="162.42" cy="155.99" r="1.4"/>
<circle cx="166.36" cy="157.31" r="1.4"/>
<circle cx="170.3" cy="156.39" r="1.4"/>
<circle cx="174.24" cy="155.34" r="1.4"/>
<circle cx="124.31" cy="157.31" r="1.4"/>
<circle cx="126.28" cy="156.65" r="1.4"/>
<circle cx="128.26" cy="159.28" r="1.4"/>
<circle cx="130.88" cy="157.96" r="1.4"/>
<circle cx="132.85" cy="157.31" r="1.4"/>
<circle cx="134.82" cy="158.62" r="1.4"/>
<circle cx="136.8" cy="160.59" r="1.4"/>
<circle cx="140.08" cy="159.28" r="1.4"/>
<circle cx="144.68" cy="162.56" r="1.4"/>
<circle cx="148.62" cy="160.59" r="1.4"/>
<circle cx="152.56" cy="160.59" r="1.4"/>
<circle cx="154.53" cy="159.28" r="1.4"/>
<circle cx="156.5" cy="159.93" r="1.4"/>
<circle cx="156.5" cy="161.91" r="1.4"/>
<circle cx="160.45" cy="160.59" r="1.4"/>
<circle cx="165.7" cy="159.28" r="1.4"/>
<circle cx="168.33" cy="161.64" r="1.4"/>
<circle cx="193.69" cy="162.56" r="1.4"/>
<circle cx="124.31" cy="163.22" r="1.4"/>
<circle cx="125.63" cy="165.85" r="1.4"/>
<circle cx="128.91" cy="167.16" r="1.4"/>
<circle cx="130.88" cy="164.53" r="1.4"/>
<circle cx="132.85" cy="165.19" r="1.4"/>
<circle cx="134.82" cy="163.88" r="1.4"/>
<circle cx="137.45" cy="165.19" r="1.4"/>
<circle cx="138.77" cy="164.53" r="1.4"/>
<circle cx="145.99" cy="167.16" r="1.4"/>
<circle cx="146.65" cy="168.47" r="1.4"/>
<circle cx="150.59" cy="166.24" r="1.4"/>
<circle cx="128.91" cy="172.15" r="1.4"/>
<circle cx="130.88" cy="169.79" r="1.4"/>
<circle cx="132.85" cy="169.13" r="1.4"/>
<circle cx="132.85" cy="173.07" r="1.4"/>
<circle cx="134.82" cy="171.1" r="1.4"/>
<circle cx="136.8" cy="169.13" r="1.4"/>
<circle cx="136.8" cy="175.31" r="1.4"/>
<circle cx="179.76" cy="170.18" r="1.4"/>
<circle cx="193.69" cy="171.76" r="1.4"/>
<circle cx="213.66" cy="134.58" r="1.4"/>
<circle cx="215.36" cy="140.88" r="1.4"/>
<circle cx="240.59" cy="153.76" r="1.4"/>
<circle cx="516.18" cy="14.72" r="1.4"/>
<circle cx="510.93" cy="19.31" r="1.4"/>
<circle cx="494.77" cy="33.9" r="1.4"/>
<circle cx="520.39" cy="46.25" r="1.4"/>
<circle cx="515.26" cy="49.93" r="1.4"/>
<circle cx="471.12" cy="55.18" r="1.4"/>
<circle cx="462.31" cy="62.41" r="1.4"/>
<circle cx="581.35" cy="33.24" r="1.4"/>
<circle cx="598.98" cy="46.39" r="1.4"/>
<circle cx="452.85" cy="71.54" r="1.4"/>
<circle cx="459.29" cy="90.33" r="1.4"/>
<circle cx="453.12" cy="94.53" r="1.4"/>
<circle cx="451.15" cy="96.11" r="1.4"/>
<circle cx="430.52" cy="110.96" r="1.4"/>
<circle cx="452.46" cy="110.56" r="1.4"/>
<circle cx="447.2" cy="113.58" r="1.4"/>
<circle cx="458.5" cy="118.45" r="1.4"/>
<circle cx="448.52" cy="123.44" r="1.4"/>
<circle cx="444.84" cy="125.41" r="1.4"/>
<circle cx="478.47" cy="76.14" r="1.4"/>
<circle cx="493.45" cy="86.12" r="1.4"/>
<circle cx="497.39" cy="83.63" r="1.4"/>
<circle cx="482.94" cy="92.3" r="1.4"/>
<circle cx="494.77" cy="100.05" r="1.4"/>
<circle cx="497.79" cy="98.21" r="1.4"/>
<circle cx="500.42" cy="97.16" r="1.4"/>
<circle cx="502.39" cy="96.11" r="1.4"/>
<circle cx="510.93" cy="103.73" r="1.4"/>
<circle cx="524.07" cy="97.82" r="1.4"/>
<circle cx="526.04" cy="96.9" r="1.4"/>
<circle cx="528.01" cy="96.11" r="1.4"/>
<circle cx="531.29" cy="94.53" r="1.4"/>
<circle cx="549.03" cy="86.65" r="1.4"/>
<circle cx="462.31" cy="104.78" r="1.4"/>
<circle cx="476.11" cy="109.38" r="1.4"/>
<circle cx="479.39" cy="108.07" r="1.4"/>
<circle cx="494.77" cy="110.96" r="1.4"/>
<circle cx="526.43" cy="106.75" r="1.4"/>
<circle cx="540.23" cy="109.91" r="1.4"/>
<circle cx="542.72" cy="108.99" r="1.4"/>
<circle cx="464.28" cy="115.55" r="1.4"/>
<circle cx="482.68" cy="116.21" r="1.4"/>
<circle cx="484.39" cy="115.55" r="1.4"/>
<circle cx="485.7" cy="115.03" r="1.4"/>
<circle cx="491.61" cy="120.55" r="1.4"/>
<circle cx="498.05" cy="118.18" r="1.4"/>
<circle cx="518.42" cy="117.79" r="1.4"/>
<circle cx="522.49" cy="116.21" r="1.4"/>
<circle cx="526.43" cy="114.9" r="1.4"/>
<circle cx="550.08" cy="113.85" r="1.4"/>
<circle cx="524.07" cy="122.39" r="1.4"/>
<circle cx="463.63" cy="124.09" r="1.4"/>
<circle cx="465.6" cy="123.44" r="1.4"/>
<circle cx="466.91" cy="123.18" r="1.4"/>
<circle cx="482.68" cy="124.09" r="1.4"/>
<circle cx="598.4" cy="64.16" r="1.4"/>
<circle cx="569.5" cy="89.45" r="1.4"/>
<circle cx="604.47" cy="86.85" r="1.4"/>
<circle cx="576" cy="97.25" r="1.4"/>
<circle cx="633.81" cy="95.08" r="1.4"/>
<circle cx="558.52" cy="111.13" r="1.4"/>
<circle cx="589.01" cy="114.45" r="1.4"/>
<circle cx="575.57" cy="118.21" r="1.4"/>
<circle cx="577.74" cy="117.63" r="1.4"/>
<circle cx="588.29" cy="119.8" r="1.4"/>
<circle cx="555.34" cy="123.7" r="1.4"/>
<circle cx="430.52" cy="132.83" r="1.4"/>
<circle cx="424.21" cy="136.12" r="1.4"/>
<circle cx="441.69" cy="134.8" r="1.4"/>
<circle cx="450.36" cy="130.86" r="1.4"/>
<circle cx="451.8" cy="136.51" r="1.4"/>
<circle cx="450.49" cy="137.17" r="1.4"/>
<circle cx="458.77" cy="133.88" r="1.4"/>
<circle cx="455.74" cy="140.19" r="1.4"/>
<circle cx="457.72" cy="139.4" r="1.4"/>
<circle cx="459.69" cy="138.74" r="1.4"/>
<circle cx="403.19" cy="147.02" r="1.4"/>
<circle cx="422.5" cy="143.34" r="1.4"/>
<circle cx="434.33" cy="143.34" r="1.4"/>
<circle cx="424.87" cy="151.36" r="1.4"/>
<circle cx="430.52" cy="149.39" r="1.4"/>
<circle cx="434.07" cy="148.34" r="1.4"/>
<circle cx="435.12" cy="147.42" r="1.4"/>
<circle cx="440.37" cy="149.65" r="1.4"/>
<circle cx="444.84" cy="148.34" r="1.4"/>
<circle cx="448.52" cy="150.31" r="1.4"/>
<circle cx="452.46" cy="145.71" r="1.4"/>
<circle cx="453.12" cy="149.39" r="1.4"/>
<circle cx="460.34" cy="143.08" r="1.4"/>
<circle cx="407.53" cy="154.25" r="1.4"/>
<circle cx="416.33" cy="157.53" r="1.4"/>
<circle cx="429.2" cy="156.22" r="1.4"/>
<circle cx="441.29" cy="155.17" r="1.4"/>
<circle cx="446.55" cy="153.59" r="1.4"/>
<circle cx="407.53" cy="160.55" r="1.4"/>
<circle cx="419.35" cy="161.21" r="1.4"/>
<circle cx="424.87" cy="161.74" r="1.4"/>
<circle cx="431.04" cy="160.42" r="1.4"/>
<circle cx="433.01" cy="159.77" r="1.4"/>
<circle cx="427.5" cy="164.5" r="1.4"/>
<circle cx="441.95" cy="159.5" r="1.4"/>
<circle cx="443.92" cy="158.85" r="1.4"/>
<circle cx="445.89" cy="158.19" r="1.4"/>
<circle cx="453.77" cy="156.88" r="1.4"/>
<circle cx="455.09" cy="158.19" r="1.4"/>
<circle cx="456.4" cy="159.5" r="1.4"/>
<circle cx="457.72" cy="157.53" r="1.4"/>
<circle cx="459.69" cy="158.85" r="1.4"/>
<circle cx="401.22" cy="166.34" r="1.4"/>
<circle cx="408.71" cy="167.52" r="1.4"/>
<circle cx="419.35" cy="166.34" r="1.4"/>
<circle cx="415.67" cy="168.31" r="1.4"/>
<circle cx="418.3" cy="170.67" r="1.4"/>
<circle cx="422.9" cy="170.01" r="1.4"/>
<circle cx="423.55" cy="171.72" r="1.4"/>
<circle cx="434.46" cy="165.42" r="1.4"/>
<circle cx="435.38" cy="166.73" r="1.4"/>
<circle cx="438.66" cy="164.76" r="1.4"/>
<circle cx="439.98" cy="163.45" r="1.4"/>
<circle cx="444.58" cy="162.13" r="1.4"/>
<circle cx="446.55" cy="164.1" r="1.4"/>
<circle cx="449.18" cy="163.45" r="1.4"/>
<circle cx="451.15" cy="164.1" r="1.4"/>
<circle cx="453.12" cy="161.47" r="1.4"/>
<circle cx="455.09" cy="162.13" r="1.4"/>
<circle cx="457.06" cy="160.82" r="1.4"/>
<circle cx="459.03" cy="163.45" r="1.4"/>
<circle cx="460.34" cy="166.73" r="1.4"/>
<circle cx="405.42" cy="172.51" r="1.4"/>
<circle cx="416.33" cy="179.47" r="1.4"/>
<circle cx="427.5" cy="174.88" r="1.4"/>
<circle cx="441.69" cy="171.59" r="1.4"/>
<circle cx="444.58" cy="169.36" r="1.4"/>
<circle cx="446.55" cy="168.04" r="1.4"/>
<circle cx="448.52" cy="166.73" r="1.4"/>
<circle cx="449.83" cy="170.67" r="1.4"/>
<circle cx="451.15" cy="170.01" r="1.4"/>
<circle cx="453.12" cy="174.88" r="1.4"/>
<circle cx="457.72" cy="178.55" r="1.4"/>
<circle cx="444.58" cy="165.42" r="1.4"/>
<circle cx="447.86" cy="165.42" r="1.4"/>
<circle cx="455.74" cy="165.42" r="1.4"/>
<circle cx="466.26" cy="130.99" r="1.4"/>
<circle cx="476.77" cy="126.66" r="1.4"/>
<circle cx="480.05" cy="131.26" r="1.4"/>
<circle cx="482.68" cy="130.6" r="1.4"/>
<circle cx="524.07" cy="132.31" r="1.4"/>
<circle cx="528.4" cy="131.26" r="1.4"/>
<circle cx="542.72" cy="127.31" r="1.4"/>
<circle cx="486.62" cy="134.54" r="1.4"/>
<circle cx="488.59" cy="133.88" r="1.4"/>
<circle cx="490.56" cy="133.23" r="1.4"/>
<circle cx="492.53" cy="132.57" r="1.4"/>
<circle cx="494.5" cy="131.91" r="1.4"/>
<circle cx="496.47" cy="131.26" r="1.4"/>
<circle cx="498.45" cy="130.6" r="1.4"/>
<circle cx="500.42" cy="129.94" r="1.4"/>
<circle cx="503.04" cy="128.89" r="1.4"/>
<circle cx="505.67" cy="128.36" r="1.4"/>
<circle cx="481.36" cy="135.85" r="1.4"/>
<circle cx="478.08" cy="137.17" r="1.4"/>
<circle cx="534.58" cy="137.56" r="1.4"/>
<circle cx="542.72" cy="138.48" r="1.4"/>
<circle cx="461.66" cy="138.48" r="1.4"/>
<circle cx="484.65" cy="139.14" r="1.4"/>
<circle cx="482.02" cy="140.45" r="1.4"/>
<circle cx="479.39" cy="141.11" r="1.4"/>
<circle cx="476.11" cy="142.42" r="1.4"/>
<circle cx="474.14" cy="143.74" r="1.4"/>
<circle cx="472.17" cy="145.71" r="1.4"/>
<circle cx="470.2" cy="146.36" r="1.4"/>
<circle cx="468.23" cy="147.28" r="1.4"/>
<circle cx="466.91" cy="148.34" r="1.4"/>
<circle cx="462.31" cy="143.08" r="1.4"/>
<circle cx="461.66" cy="146.36" r="1.4"/>
<circle cx="462.97" cy="149.65" r="1.4"/>
<circle cx="485.96" cy="142.42" r="1.4"/>
<circle cx="481.36" cy="143.74" r="1.4"/>
<circle cx="487.93" cy="148.34" r="1.4"/>
<circle cx="485.31" cy="147.02" r="1.4"/>
<circle cx="480.71" cy="150.31" r="1.4"/>
<circle cx="477.42" cy="150.96" r="1.4"/>
<circle cx="474.8" cy="151.62" r="1.4"/>
<circle cx="468.23" cy="150.96" r="1.4"/>
<circle cx="498.45" cy="148.6" r="1.4"/>
<circle cx="504.36" cy="147.02" r="1.4"/>
<circle cx="508.3" cy="146.36" r="1.4"/>
<circle cx="511.58" cy="147.68" r="1.4"/>
<circle cx="513.55" cy="145.05" r="1.4"/>
<circle cx="516.18" cy="147.02" r="1.4"/>
<circle cx="520.12" cy="148.34" r="1.4"/>
<circle cx="522.75" cy="150.31" r="1.4"/>
<circle cx="525.38" cy="151.62" r="1.4"/>
<circle cx="527.35" cy="145.71" r="1.4"/>
<circle cx="528.01" cy="147.68" r="1.4"/>
<circle cx="532.61" cy="148.6" r="1.4"/>
<circle cx="538.52" cy="145.05" r="1.4"/>
<circle cx="546.4" cy="147.68" r="1.4"/>
<circle cx="549.03" cy="145.05" r="1.4"/>
<circle cx="472.82" cy="154.25" r="1.4"/>
<circle cx="474.8" cy="154.91" r="1.4"/>
<circle cx="476.77" cy="155.56" r="1.4"/>
<circle cx="480.71" cy="154.25" r="1.4"/>
<circle cx="482.02" cy="155.17" r="1.4"/>
<circle cx="487.28" cy="156.88" r="1.4"/>
<circle cx="489.25" cy="157.53" r="1.4"/>
<circle cx="492.53" cy="153.59" r="1.4"/>
<circle cx="494.5" cy="152.28" r="1.4"/>
<circle cx="496.47" cy="154.25" r="1.4"/>
<circle cx="499.76" cy="153.59" r="1.4"/>
<circle cx="500.42" cy="151.62" r="1.4"/>
<circle cx="504.36" cy="152.28" r="1.4"/>
<circle cx="506.99" cy="154.91" r="1.4"/>
<circle cx="508.96" cy="153.59" r="1.4"/>
<circle cx="510.27" cy="150.96" r="1.4"/>
<circle cx="510.93" cy="149.65" r="1.4"/>
<circle cx="512.24" cy="150.31" r="1.4"/>
<circle cx="518.81" cy="152.93" r="1.4"/>
<circle cx="521.44" cy="151.62" r="1.4"/>
<circle cx="524.07" cy="152.93" r="1.4"/>
<circle cx="526.69" cy="151.62" r="1.4"/>
<circle cx="530.64" cy="152.93" r="1.4"/>
<circle cx="532.61" cy="154.25" r="1.4"/>
<circle cx="541.15" cy="156.22" r="1.4"/>
<circle cx="542.46" cy="157.53" r="1.4"/>
<circle cx="462.31" cy="158.85" r="1.4"/>
<circle cx="466.26" cy="156.22" r="1.4"/>
<circle cx="468.88" cy="160.16" r="1.4"/>
<circle cx="469.54" cy="163.45" r="1.4"/>
<circle cx="474.14" cy="157.53" r="1.4"/>
<circle cx="478.08" cy="158.19" r="1.4"/>
<circle cx="480.71" cy="159.5" r="1.4"/>
<circle cx="482.02" cy="161.47" r="1.4"/>
<circle cx="483.99" cy="162.79" r="1.4"/>
<circle cx="486.62" cy="164.1" r="1.4"/>
<circle cx="488.59" cy="164.76" r="1.4"/>
<circle cx="478.08" cy="163.45" r="1.4"/>
<circle cx="480.71" cy="163.45" r="1.4"/>
<circle cx="493.19" cy="161.47" r="1.4"/>
<circle cx="495.82" cy="160.82" r="1.4"/>
<circle cx="498.45" cy="158.19" r="1.4"/>
<circle cx="503.7" cy="160.82" r="1.4"/>
<circle cx="506.99" cy="159.5" r="1.4"/>
<circle cx="508.3" cy="162.13" r="1.4"/>
<circle cx="506.33" cy="164.76" r="1.4"/>
<circle cx="514.21" cy="158.19" r="1.4"/>
<circle cx="516.18" cy="156.88" r="1.4"/>
<circle cx="514.87" cy="162.79" r="1.4"/>
<circle cx="520.78" cy="156.88" r="1.4"/>
<circle cx="521.44" cy="163.45" r="1.4"/>
<circle cx="523.41" cy="162.13" r="1.4"/>
<circle cx="525.38" cy="164.76" r="1.4"/>
<circle cx="531.95" cy="159.5" r="1.4"/>
<circle cx="533.26" cy="162.79" r="1.4"/>
<circle cx="533.92" cy="164.76" r="1.4"/>
<circle cx="461.66" cy="160.82" r="1.4"/>
<circle cx="461.66" cy="164.76" r="1.4"/>
<circle cx="474.14" cy="168.04" r="1.4"/>
<circle cx="476.11" cy="171.33" r="1.4"/>
<circle cx="484.65" cy="168.04" r="1.4"/>
<circle cx="486.62" cy="169.36" r="1.4"/>
<circle cx="493.19" cy="165.42" r="1.4"/>
<circle cx="494.5" cy="167.39" r="1.4"/>
<circle cx="495.16" cy="169.36" r="1.4"/>
<circle cx="493.19" cy="171.99" r="1.4"/>
<circle cx="503.04" cy="168.04" r="1.4"/>
<circle cx="463.63" cy="172.64" r="1.4"/>
<circle cx="525.38" cy="172.64" r="1.4"/>
<circle cx="599.56" cy="129.47" r="1.4"/>
<circle cx="556.49" cy="141.32" r="1.4"/>
<circle cx="578.46" cy="139.73" r="1.4"/>
<circle cx="594.36" cy="141.32" r="1.4"/>
<circle cx="599.56" cy="142.91" r="1.4"/>
<circle cx="572.39" cy="143.34" r="1.4"/>
<circle cx="608.81" cy="145.08" r="1.4"/>
<circle cx="617.05" cy="137.56" r="1.4"/>
<circle cx="646.39" cy="139.59" r="1.4"/>
<circle cx="552.16" cy="148.69" r="1.4"/>
<circle cx="557.5" cy="147.97" r="1.4"/>
<circle cx="559.38" cy="147.68" r="1.4"/>
<circle cx="554.18" cy="153.17" r="1.4"/>
<circle cx="571.52" cy="156.06" r="1.4"/>
<circle cx="551.72" cy="162.13" r="1.4"/>
<circle cx="559.67" cy="166.18" r="1.4"/>
<circle cx="568.34" cy="164.73" r="1.4"/>
<circle cx="637.72" cy="169.36" r="1.4"/>
<circle cx="216.56" cy="253.12" r="1.4"/>
<circle cx="203.79" cy="265.34" r="1.4"/>
<circle cx="197.68" cy="271.58" r="1.4"/>
<circle cx="191.58" cy="277.83" r="1.4"/>
<circle cx="185.06" cy="283.8" r="1.4"/>
<circle cx="178.95" cy="290.05" r="1.4"/>
<circle cx="210.18" cy="290.72" r="1.4"/>
<circle cx="153.7" cy="279.73" r="1.4"/>
<circle cx="266.65" cy="247.01" r="1.4"/>
<circle cx="235.29" cy="271.45" r="1.4"/>
<circle cx="254.3" cy="283.66" r="1.4"/>
<circle cx="291.91" cy="282.04" r="1.4"/>
<circle cx="241.4" cy="291.13" r="1.4"/>
<circle cx="122.2" cy="320.51" r="1.4"/>
<circle cx="116.09" cy="328.66" r="1.4"/>
<circle cx="90.97" cy="332.73" r="1.4"/>
<circle cx="109.71" cy="336.8" r="1.4"/>
<circle cx="122.2" cy="345.22" r="1.4"/>
<circle cx="116.09" cy="351.33" r="1.4"/>
<circle cx="97.22" cy="353.37" r="1.4"/>
<circle cx="141.34" cy="296.07" r="1.4"/>
<circle cx="166.32" cy="302.18" r="1.4"/>
<circle cx="159.94" cy="308.29" r="1.4"/>
<circle cx="128.44" cy="312.36" r="1.4"/>
<circle cx="153.7" cy="314.4" r="1.4"/>
<circle cx="147.32" cy="320.51" r="1.4"/>
<circle cx="172.57" cy="320.51" r="1.4"/>
<circle cx="141.34" cy="326.89" r="1.4"/>
<circle cx="166.32" cy="325.26" r="1.4"/>
<circle cx="159.94" cy="330.42" r="1.4"/>
<circle cx="134.82" cy="332.73" r="1.4"/>
<circle cx="153.7" cy="335.17" r="1.4"/>
<circle cx="128.44" cy="338.98" r="1.4"/>
<circle cx="172.57" cy="336.8" r="1.4"/>
<circle cx="166.32" cy="340.88" r="1.4"/>
<circle cx="159.94" cy="344.95" r="1.4"/>
<circle cx="141.34" cy="344.95" r="1.4"/>
<circle cx="134.82" cy="350.11" r="1.4"/>
<circle cx="153.7" cy="349.02" r="1.4"/>
<circle cx="172.57" cy="348.61" r="1.4"/>
<circle cx="178.95" cy="344.95" r="1.4"/>
<circle cx="185.06" cy="351.06" r="1.4"/>
<circle cx="147.32" cy="353.37" r="1.4"/>
<circle cx="159.94" cy="355.13" r="1.4"/>
<circle cx="178.95" cy="354.45" r="1.4"/>
<circle cx="191.44" cy="355.13" r="1.4"/>
<circle cx="128.44" cy="354.72" r="1.4"/>
<circle cx="185.06" cy="328.66" r="1.4"/>
<circle cx="191.44" cy="324.58" r="1.4"/>
<circle cx="197.68" cy="320.51" r="1.4"/>
<circle cx="203.79" cy="316.44" r="1.4"/>
<circle cx="210.18" cy="327.57" r="1.4"/>
<circle cx="216.56" cy="324.18" r="1.4"/>
<circle cx="197.68" cy="334.77" r="1.4"/>
<circle cx="235.29" cy="296.07" r="1.4"/>
<circle cx="254.3" cy="303.13" r="1.4"/>
<circle cx="247.78" cy="306.53" r="1.4"/>
<circle cx="254.3" cy="317.52" r="1.4"/>
<circle cx="222.8" cy="320.51" r="1.4"/>
<circle cx="229.18" cy="330.01" r="1.4"/>
<circle cx="222.8" cy="332.73" r="1.4"/>
<circle cx="241.4" cy="334.36" r="1.4"/>
<circle cx="247.78" cy="331.64" r="1.4"/>
<circle cx="109.71" cy="357.63" r="1.4"/>
<circle cx="90.97" cy="361.43" r="1.4"/>
<circle cx="103.33" cy="363.74" r="1.4"/>
<circle cx="116.09" cy="365.1" r="1.4"/>
<circle cx="122.2" cy="360.07" r="1.4"/>
<circle cx="84.59" cy="369.85" r="1.4"/>
<circle cx="97.22" cy="369.85" r="1.4"/>
<circle cx="109.71" cy="369.85" r="1.4"/>
<circle cx="122.2" cy="369.85" r="1.4"/>
<circle cx="78.48" cy="377.72" r="1.4"/>
<circle cx="90.97" cy="375.01" r="1.4"/>
<circle cx="90.97" cy="376.36" r="1.4"/>
<circle cx="103.33" cy="374.74" r="1.4"/>
<circle cx="109.71" cy="377.99" r="1.4"/>
<circle cx="116.09" cy="373.92" r="1.4"/>
<circle cx="122.2" cy="376.77" r="1.4"/>
<circle cx="84.59" cy="382.07" r="1.4"/>
<circle cx="97.22" cy="379.49" r="1.4"/>
<circle cx="90.97" cy="384.51" r="1.4"/>
<circle cx="97.22" cy="386.14" r="1.4"/>
<circle cx="103.33" cy="387.23" r="1.4"/>
<circle cx="109.71" cy="383.83" r="1.4"/>
<circle cx="116.09" cy="380.44" r="1.4"/>
<circle cx="78.48" cy="388.18" r="1.4"/>
<circle cx="84.59" cy="389.26" r="1.4"/>
<circle cx="90.97" cy="390.21" r="1.4"/>
<circle cx="97.22" cy="391.03" r="1.4"/>
<circle cx="72.1" cy="394.42" r="1.4"/>
<circle cx="84.59" cy="394.42" r="1.4"/>
<circle cx="97.22" cy="394.42" r="1.4"/>
<circle cx="103.33" cy="396.73" r="1.4"/>
<circle cx="116.09" cy="394.42" r="1.4"/>
<circle cx="78.48" cy="398.49" r="1.4"/>
<circle cx="109.71" cy="399.85" r="1.4"/>
<circle cx="78.48" cy="405.15" r="1.4"/>
<circle cx="90.97" cy="403.25" r="1.4"/>
<circle cx="72.1" cy="407.86" r="1.4"/>
<circle cx="141.34" cy="357.63" r="1.4"/>
<circle cx="134.82" cy="361.7" r="1.4"/>
<circle cx="166.32" cy="360.75" r="1.4"/>
<circle cx="185.06" cy="358.99" r="1.4"/>
<circle cx="197.68" cy="360.07" r="1.4"/>
<circle cx="203.79" cy="363.06" r="1.4"/>
<circle cx="128.44" cy="365.5" r="1.4"/>
<circle cx="141.34" cy="366.18" r="1.4"/>
<circle cx="153.83" cy="366.59" r="1.4"/>
<circle cx="166.32" cy="367.13" r="1.4"/>
<circle cx="172.57" cy="364.42" r="1.4"/>
<circle cx="134.82" cy="369.85" r="1.4"/>
<circle cx="147.32" cy="369.85" r="1.4"/>
<circle cx="153.83" cy="372.56" r="1.4"/>
<circle cx="141.34" cy="372.97" r="1.4"/>
<circle cx="178.95" cy="375.96" r="1.4"/>
<circle cx="128.44" cy="379.08" r="1.4"/>
<circle cx="134.82" cy="384.51" r="1.4"/>
<circle cx="141.34" cy="388.18" r="1.4"/>
<circle cx="436.9" cy="377.3" r="1.4"/>
<circle cx="438.7" cy="382.4" r="1.4"/>
<circle cx="430.3" cy="385.5" r="1.4"/>
<circle cx="432.6" cy="388.8" r="1.4"/>
<circle cx="434.6" cy="390.3" r="1.4"/>
<circle cx="436.9" cy="389.3" r="1.4"/>
<circle cx="432.3" cy="393.9" r="1.4"/>
<circle cx="432.3" cy="395.2" r="1.4"/>
<circle cx="427" cy="391.4" r="1.4"/>
<circle cx="425.4" cy="391.4" r="1.4"/>
<circle cx="427.5" cy="395.4" r="1.4"/>
<circle cx="426" cy="396.5" r="1.4"/>
<circle cx="426" cy="399.5" r="1.4"/>
<circle cx="421.4" cy="394.4" r="1.4"/>
<circle cx="419.8" cy="396.5" r="1.4"/>
<circle cx="418.8" cy="398.5" r="1.4"/>
<circle cx="418.8" cy="400.5" r="1.4"/>
<circle cx="416.8" cy="395.4" r="1.4"/>
<circle cx="415.2" cy="397.5" r="1.4"/>
<circle cx="412.4" cy="395.2" r="1.4"/>
<circle cx="413.9" cy="399.5" r="1.4"/>
<circle cx="413.9" cy="402.1" r="1.4"/>
<circle cx="408.1" cy="393.1" r="1.4"/>
<circle cx="410.1" cy="401.6" r="1.4"/>
<circle cx="406.5" cy="403.1" r="1.4"/>
<circle cx="422.9" cy="393.4" r="1.4"/>
<circle cx="423.9" cy="395.4" r="1.4"/>
<circle cx="407.8" cy="393.3" r="1.4"/>
<circle cx="452.59" cy="343.4" r="1.4"/>
<circle cx="463.8" cy="355.4" r="1.4"/>
<circle cx="470.37" cy="364.77" r="1.4"/>
<circle cx="474.93" cy="366.61" r="1.4"/>
<circle cx="474.93" cy="370.73" r="1.4"/>
<circle cx="472.74" cy="375.99" r="1.4"/>
<circle cx="459.16" cy="369.85" r="1.4"/>
<circle cx="461.79" cy="371.34" r="1.4"/>
<circle cx="456.97" cy="375.11" r="1.4"/>
<circle cx="458.28" cy="375.55" r="1.4"/>
<circle cx="459.6" cy="375.99" r="1.4"/>
<circle cx="460.91" cy="376.42" r="1.4"/>
<circle cx="460.04" cy="377.74" r="1.4"/>
<circle cx="461.79" cy="377.74" r="1.4"/>
<circle cx="468.18" cy="378" r="1.4"/>
<circle cx="439.01" cy="382.26" r="1.4"/>
<circle cx="441.2" cy="385.33" r="1.4"/>
<circle cx="441.2" cy="387.52" r="1.4"/>
<circle cx="441.2" cy="389.27" r="1.4"/>
<circle cx="447.77" cy="382.26" r="1.4"/>
<circle cx="446.02" cy="380.95" r="1.4"/>
<circle cx="452.59" cy="381.39" r="1.4"/>
<circle cx="508.36" cy="334.67" r="1.4"/>
<circle cx="519.45" cy="335.49" r="1.4"/>
<circle cx="539.66" cy="334.09" r="1.4"/>
<circle cx="555.31" cy="336.77" r="1.4"/>
<circle cx="495.28" cy="348.1" r="1.4"/>
<circle cx="490.61" cy="351.02" r="1.4"/>
<circle cx="508.36" cy="352.19" r="1.4"/>
<circle cx="488.27" cy="357.8" r="1.4"/>
<circle cx="490.61" cy="366.91" r="1.4"/>
<circle cx="544.09" cy="283.58" r="1.4"/>
<circle cx="555.33" cy="299.93" r="1.4"/>
<circle cx="611.24" cy="296.28" r="1.4"/>
<circle cx="609.05" cy="319.2" r="1.4"/>
<circle cx="528.47" cy="327.66" r="1.4"/>
<circle cx="555.33" cy="328.39" r="1.4"/>
<circle cx="633.32" cy="287.85" r="1.4"/>
<circle cx="610.99" cy="296.18" r="1.4"/>
<circle cx="382.08" cy="414.86" r="1.4"/>
<circle cx="382.72" cy="416.46" r="1.4"/>
<circle cx="383.65" cy="414.96" r="1.4"/>
<circle cx="384.58" cy="413.46" r="1.4"/>
<circle cx="385.22" cy="415.06" r="1.4"/>
<circle cx="386.15" cy="413.56" r="1.4"/>
<circle cx="387.08" cy="412.06" r="1.4"/>
<circle cx="387.72" cy="413.66" r="1.4"/>
<circle cx="388.65" cy="412.16" r="1.4"/>
<circle cx="389.58" cy="410.66" r="1.4"/>
<circle cx="390.22" cy="412.26" r="1.4"/>
<circle cx="391.15" cy="410.76" r="1.4"/>
<circle cx="392.08" cy="409.26" r="1.4"/>
<circle cx="392.72" cy="410.86" r="1.4"/>
<circle cx="393.65" cy="409.36" r="1.4"/>
<circle cx="394.58" cy="407.86" r="1.4"/>
<circle cx="395.22" cy="409.46" r="1.4"/>
<circle cx="396.15" cy="407.96" r="1.4"/>
<circle cx="397.08" cy="406.46" r="1.4"/>
<circle cx="397.72" cy="408.06" r="1.4"/>
<circle cx="398.65" cy="406.56" r="1.4"/>
<circle cx="399.58" cy="405.06" r="1.4"/>
<circle cx="400.22" cy="406.66" r="1.4"/>
<circle cx="401.15" cy="405.16" r="1.4"/>
<circle cx="402.08" cy="403.66" r="1.4"/>
<circle cx="402.72" cy="405.26" r="1.4"/>
<circle cx="403.65" cy="403.76" r="1.4"/>
<circle cx="404.58" cy="402.26" r="1.4"/>
<circle cx="405.22" cy="403.86" r="1.4"/>
<circle cx="406.15" cy="402.36" r="1.4"/>
<circle cx="407.08" cy="400.86" r="1.4"/>
<circle cx="407.72" cy="402.46" r="1.4"/>
<circle cx="408.65" cy="400.96" r="1.4"/>
<circle cx="409.58" cy="399.46" r="1.4"/>
<circle cx="410.22" cy="401.06" r="1.4"/>
<circle cx="411.15" cy="399.56" r="1.4"/>
<circle cx="137.3" cy="496.4" r="1.4"/>
<circle cx="214.3" cy="500.6" r="1.4"/>
<circle cx="220" cy="556.8" r="1.4"/>
<circle cx="282" cy="596.7" r="1.4"/>
<circle cx="269" cy="619.4" r="1.4"/>
<circle cx="137.7" cy="588.4" r="1.4"/>
<circle cx="132.7" cy="591.1" r="1.4"/>
<circle cx="135.8" cy="595.4" r="1.4"/>
<circle cx="147.6" cy="596.7" r="1.4"/>
<circle cx="67.45" cy="533.6" r="1.4"/>
<circle cx="94.5" cy="543.64" r="1.4"/>
<circle cx="113.55" cy="541.22" r="1.4"/>
<circle cx="77.87" cy="551.39" r="1.4"/>
<circle cx="100.22" cy="560.02" r="1.4"/>
<circle cx="109.74" cy="561.55" r="1.4"/>
<circle cx="106.95" cy="565.36" r="1.4"/>
<circle cx="65.29" cy="578.69" r="1.4"/>
<circle cx="84.6" cy="578.69" r="1.4"/>
<circle cx="138.32" cy="532.97" r="1.4"/>
<circle cx="138.96" cy="540.21" r="1.4"/>
<circle cx="136.16" cy="542.49" r="1.4"/>
<circle cx="140.23" cy="568.28" r="1.4"/>
<circle cx="184.68" cy="576.28" r="1.4"/>
<circle cx="105.3" cy="583.02" r="1.4"/>
<circle cx="107.2" cy="584.29" r="1.4"/>
<circle cx="70.12" cy="592.16" r="1.4"/>
<circle cx="79.9" cy="589.87" r="1.4"/>
<circle cx="88.15" cy="594.45" r="1.4"/>
<circle cx="95.14" cy="591.53" r="1.4"/>
<circle cx="96.41" cy="593.68" r="1.4"/>
<circle cx="98.31" cy="591.53" r="1.4"/>
<circle cx="101.49" cy="589.62" r="1.4"/>
<circle cx="61.75" cy="596.17" r="1.4"/>
<circle cx="88.03" cy="595" r="1.4"/>
<circle cx="135.68" cy="595.58" r="1.4"/>
<circle cx="103.8" cy="603.18" r="1.4"/>
<circle cx="106.13" cy="604.34" r="1.4"/>
<circle cx="104.38" cy="606.68" r="1.4"/>
<circle cx="104.96" cy="609.6" r="1.4"/>
<circle cx="123.65" cy="605.28" r="1.4"/>
<circle cx="127.74" cy="607.26" r="1.4"/>
<circle cx="110.22" cy="610.18" r="1.4"/>
<circle cx="109.64" cy="611.35" r="1.4"/>
<circle cx="108.47" cy="614.85" r="1.4"/>
<circle cx="112.55" cy="613.69" r="1.4"/>
<circle cx="116.99" cy="612.52" r="1.4"/>
<circle cx="124.82" cy="616.02" r="1.4"/>
<circle cx="93.87" cy="610.18" r="1.4"/>
<circle cx="93.28" cy="611.93" r="1.4"/>
<circle cx="95.04" cy="611.93" r="1.4"/>
<circle cx="78.69" cy="611.93" r="1.4"/>
<circle cx="77.52" cy="613.1" r="1.4"/>
<circle cx="73.43" cy="613.69" r="1.4"/>
<circle cx="75.18" cy="614.27" r="1.4"/>
<circle cx="84.53" cy="613.69" r="1.4"/>
<circle cx="86.28" cy="613.1" r="1.4"/>
<circle cx="88.03" cy="613.1" r="1.4"/>
<circle cx="89.78" cy="613.69" r="1.4"/>
<circle cx="71.68" cy="620.11" r="1.4"/>
<circle cx="72.85" cy="618.94" r="1.4"/>
<circle cx="76.35" cy="618.94" r="1.4"/>
<circle cx="78.69" cy="618.36" r="1.4"/>
<circle cx="81.02" cy="620.11" r="1.4"/>
<circle cx="83.94" cy="617.77" r="1.4"/>
<circle cx="89.2" cy="618.36" r="1.4"/>
<circle cx="84.53" cy="621.28" r="1.4"/>
<circle cx="99.12" cy="620.11" r="1.4"/>
<circle cx="100.29" cy="620.93" r="1.4"/>
<circle cx="109.05" cy="620.69" r="1.4"/>
<circle cx="115.47" cy="622.45" r="1.4"/>
<circle cx="132.41" cy="621.28" r="1.4"/>
<circle cx="133.58" cy="623.61" r="1.4"/>
<circle cx="61.75" cy="622.45" r="1.4"/>
<circle cx="67.59" cy="624.2" r="1.4"/>
<circle cx="68.76" cy="623.03" r="1.4"/>
<circle cx="88.03" cy="623.03" r="1.4"/>
<circle cx="91.53" cy="623.03" r="1.4"/>
<circle cx="94.45" cy="623.61" r="1.4"/>
<circle cx="99.71" cy="625.36" r="1.4"/>
<circle cx="153.4" cy="611.2" r="1.4"/>
<circle cx="159" cy="605.1" r="1.4"/>
<circle cx="174.4" cy="600.8" r="1.4"/>
<circle cx="150.4" cy="620.9" r="1.4"/>
<circle cx="157.5" cy="621.7" r="1.4"/>
<circle cx="167.7" cy="620.4" r="1.4"/>
<circle cx="172.3" cy="627.1" r="1.4"/>
<circle cx="159" cy="629.6" r="1.4"/>
<circle cx="141.7" cy="626.1" r="1.4"/>
<circle cx="143.7" cy="625" r="1.4"/>
<circle cx="148.8" cy="625" r="1.4"/>
<circle cx="145.8" cy="627.6" r="1.4"/>
<circle cx="146.8" cy="629.1" r="1.4"/>
<circle cx="148.3" cy="630.1" r="1.4"/>
<circle cx="149.9" cy="631.2" r="1.4"/>
<circle cx="150.9" cy="630.7" r="1.4"/>
<circle cx="140.7" cy="633.7" r="1.4"/>
<circle cx="141.7" cy="635.3" r="1.4"/>
<circle cx="147.8" cy="633.2" r="1.4"/>
<circle cx="148.3" cy="635.3" r="1.4"/>
<circle cx="149.9" cy="635.3" r="1.4"/>
<circle cx="151.9" cy="635.3" r="1.4"/>
<circle cx="155.5" cy="633.2" r="1.4"/>
<circle cx="160.1" cy="633.7" r="1.4"/>
<circle cx="162.1" cy="633.7" r="1.4"/>
<circle cx="164.2" cy="633.2" r="1.4"/>
<circle cx="166.2" cy="631.2" r="1.4"/>
<circle cx="167.7" cy="632.2" r="1.4"/>
<circle cx="169.3" cy="633.2" r="1.4"/>
<circle cx="171.3" cy="634.2" r="1.4"/>
<circle cx="175.4" cy="631.2" r="1.4"/>
<circle cx="176.4" cy="630.1" r="1.4"/>
<circle cx="177.4" cy="633.7" r="1.4"/>
<circle cx="178.5" cy="635.3" r="1.4"/>
<circle cx="239.52" cy="582.64" r="1.4"/>
<circle cx="202.31" cy="588.6" r="1.4"/>
<circle cx="229.61" cy="601.05" r="1.4"/>
<circle cx="244.22" cy="607.15" r="1.4"/>
<circle cx="250.57" cy="612.48" r="1.4"/>
<circle cx="195.32" cy="607.4" r="1.4"/>
<circle cx="193.16" cy="612.48" r="1.4"/>
<circle cx="187.32" cy="615.02" r="1.4"/>
<circle cx="212.72" cy="616.55" r="1.4"/>
<circle cx="196.85" cy="625.82" r="1.4"/>
<circle cx="208.28" cy="625.82" r="1.4"/>
<circle cx="229.61" cy="625.82" r="1.4"/>
<circle cx="228.34" cy="627.72" r="1.4"/>
<circle cx="257.3" cy="625.44" r="1.4"/>
<circle cx="180.72" cy="629.63" r="1.4"/>
<circle cx="176.27" cy="630.9" r="1.4"/>
<circle cx="200.4" cy="631.79" r="1.4"/>
<circle cx="205.23" cy="631.53" r="1.4"/>
<circle cx="208.28" cy="630.26" r="1.4"/>
<circle cx="178.81" cy="634.71" r="1.4"/>
<circle cx="181.1" cy="635.34" r="1.4"/>
<circle cx="215.64" cy="635.98" r="1.4"/>
<circle cx="176.27" cy="632.8" r="1.4"/>
<circle cx="108.91" cy="632.96" r="1.4"/>
<circle cx="121.74" cy="635.17" r="1.4"/>
<circle cx="132.78" cy="631.94" r="1.4"/>
<circle cx="70.93" cy="629.96" r="1.4"/>
<circle cx="80.87" cy="630.78" r="1.4"/>
<circle cx="105.26" cy="624.94" r="1.4"/>
<circle cx="78.65" cy="627.87" r="1.4"/>
<circle cx="121.89" cy="626.33" r="1.4"/>
<circle cx="71.94" cy="624.82" r="1.4"/>
<circle cx="77.76" cy="635.15" r="1.4"/>
<circle cx="113.95" cy="635.43" r="1.4"/>
<circle cx="84.76" cy="628.77" r="1.4"/>
<circle cx="74.86" cy="626.4" r="1.4"/>
<circle cx="67.35" cy="628.11" r="1.4"/>
<circle cx="113.01" cy="628.52" r="1.4"/>
<circle cx="98.35" cy="632.55" r="1.4"/>
<circle cx="121.19" cy="628.83" r="1.4"/>
<circle cx="88.93" cy="630.57" r="1.4"/>
<circle cx="87.83" cy="634.97" r="1.4"/>
<circle cx="103.11" cy="628.24" r="1.4"/>
<circle cx="86.1" cy="626.75" r="1.4"/>
<circle cx="66.12" cy="635.65" r="1.4"/>
<circle cx="92.74" cy="627.41" r="1.4"/>
<circle cx="106.75" cy="633.89" r="1.4"/>
<circle cx="96.45" cy="629.44" r="1.4"/>
<circle cx="72.23" cy="632.85" r="1.4"/>
<circle cx="136.95" cy="634.17" r="1.4"/>
<circle cx="116.85" cy="630.07" r="1.4"/>
<circle cx="90.59" cy="635.67" r="1.4"/>
<circle cx="82.79" cy="633.4" r="1.4"/>
<circle cx="127.12" cy="628.77" r="1.4"/>
<circle cx="120.23" cy="632.44" r="1.4"/>
<circle cx="127.31" cy="632.37" r="1.4"/>
<circle cx="74.88" cy="634" r="1.4"/>
<circle cx="93.85" cy="631.66" r="1.4"/>
<circle cx="110.93" cy="627.21" r="1.4"/>
<circle cx="109.5" cy="625.26" r="1.4"/>
<circle cx="97.63" cy="627.29" r="1.4"/>
<circle cx="80.22" cy="634.74" r="1.4"/>
<circle cx="123.48" cy="629.41" r="1.4"/>
<circle cx="106.9" cy="631" r="1.4"/>
<circle cx="62.57" cy="625.99" r="1.4"/>
<circle cx="134.95" cy="628.98" r="1.4"/>
<circle cx="108.82" cy="629.68" r="1.4"/>
<circle cx="124.1" cy="624.95" r="1.4"/>
<circle cx="84.34" cy="631.49" r="1.4"/>
<circle cx="89.4" cy="633" r="1.4"/>
<circle cx="99.58" cy="628.44" r="1.4"/>
<circle cx="73.94" cy="631.24" r="1.4"/>
<circle cx="123.56" cy="633.51" r="1.4"/>
<circle cx="64.4" cy="632.75" r="1.4"/>
<circle cx="125.23" cy="627.21" r="1.4"/>
<circle cx="67.86" cy="625.43" r="1.4"/>
<circle cx="98.97" cy="635.12" r="1.4"/>
<circle cx="90.38" cy="625.41" r="1.4"/>
<circle cx="114.45" cy="626.46" r="1.4"/>
<circle cx="103.84" cy="631.63" r="1.4"/>
<circle cx="101.02" cy="626.27" r="1.4"/>
<circle cx="117.39" cy="626.77" r="1.4"/>
<circle cx="106.75" cy="627.42" r="1.4"/>
<circle cx="88.9" cy="627.39" r="1.4"/>
<circle cx="62.53" cy="629.97" r="1.4"/>
<circle cx="83.17" cy="626.58" r="1.4"/>
<circle cx="98.41" cy="625.15" r="1.4"/>
<circle cx="131.38" cy="628.86" r="1.4"/>
<circle cx="113.73" cy="632.21" r="1.4"/>
<circle cx="103.36" cy="635.69" r="1.4"/>
<circle cx="129.46" cy="630.2" r="1.4"/>
<circle cx="78.47" cy="624.99" r="1.4"/>
<circle cx="80.74" cy="625.73" r="1.4"/>
<circle cx="85.89" cy="633.08" r="1.4"/>
<circle cx="111.23" cy="633.16" r="1.4"/>
<circle cx="95.44" cy="633.78" r="1.4"/>
<circle cx="126.55" cy="635.24" r="1.4"/>
<circle cx="100.62" cy="631.25" r="1.4"/>
<circle cx="76.26" cy="629.08" r="1.4"/>
<circle cx="67.87" cy="633.09" r="1.4"/>
<circle cx="76.68" cy="631.34" r="1.4"/>
<circle cx="117.43" cy="634.9" r="1.4"/>
<circle cx="65.19" cy="625.06" r="1.4"/>
<circle cx="93.29" cy="634.42" r="1.4"/>
<circle cx="72.66" cy="627.4" r="1.4"/>
<circle cx="132.33" cy="635.25" r="1.4"/>
<circle cx="73.21" cy="635.44" r="1.4"/>
<circle cx="81.81" cy="628.73" r="1.4"/>
<circle cx="110.23" cy="635.32" r="1.4"/>
<circle cx="68.74" cy="635.66" r="1.4"/>
<circle cx="78.86" cy="632.12" r="1.4"/>
<circle cx="95.51" cy="626.46" r="1.4"/>
<circle cx="125.21" cy="631.61" r="1.4"/>
<circle cx="70.79" cy="634.54" r="1.4"/>
<circle cx="101.39" cy="634.03" r="1.4"/>
<circle cx="65.8" cy="630.36" r="1.4"/>
<circle cx="111.06" cy="630.74" r="1.4"/>
<circle cx="115.87" cy="632.91" r="1.4"/>
<circle cx="70.25" cy="627.42" r="1.4"/>
<circle cx="84.65" cy="635.59" r="1.4"/>
<circle cx="131.98" cy="625.14" r="1.4"/>
<circle cx="91.32" cy="630.01" r="1.4"/>
<circle cx="129.14" cy="626.38" r="1.4"/>
<circle cx="68.08" cy="630.55" r="1.4"/>
<circle cx="136.42" cy="626.23" r="1.4"/>
<circle cx="133.28" cy="627.34" r="1.4"/>
<circle cx="119.27" cy="625.51" r="1.4"/>
<circle cx="63.42" cy="635.35" r="1.4"/>
<circle cx="91.81" cy="632.63" r="1.4"/>
<circle cx="64.4" cy="628.28" r="1.4"/>
<circle cx="87.77" cy="625.03" r="1.4"/>
<circle cx="118.89" cy="629.1" r="1.4"/>
<circle cx="96.73" cy="635.72" r="1.4"/>
<circle cx="86.42" cy="630.3" r="1.4"/>
<circle cx="112.17" cy="625.26" r="1.4"/>
<circle cx="130.01" cy="634.01" r="1.4"/>
<circle cx="134.67" cy="634.93" r="1.4"/>
<circle cx="135.88" cy="631.48" r="1.4"/>
<circle cx="134.24" cy="625.18" r="1.4"/>
<circle cx="116.06" cy="624.92" r="1.4"/>
<circle cx="114.53" cy="630.14" r="1.4"/>
<circle cx="126.39" cy="625.17" r="1.4"/>
<circle cx="105.53" cy="629.27" r="1.4"/>
<circle cx="94.18" cy="629.11" r="1.4"/>
<circle cx="93.02" cy="625.15" r="1.4"/>
<circle cx="70.08" cy="632.33" r="1.4"/>
<circle cx="103.04" cy="625.02" r="1.4"/>
<circle cx="82.3" cy="635.78" r="1.4"/>
<circle cx="119.54" cy="635.66" r="1.4"/>
<circle cx="85.01" cy="624.81" r="1.4"/>
<circle cx="124.36" cy="635.6" r="1.4"/>
<circle cx="122.23" cy="631.53" r="1.4"/>
<circle cx="96.22" cy="631.65" r="1.4"/>
<circle cx="117.95" cy="632.19" r="1.4"/>
<circle cx="78.48" cy="619.32" r="1.4"/>
<circle cx="69.83" cy="620.74" r="1.4"/>
<circle cx="94.38" cy="620.73" r="1.4"/>
<circle cx="91.7" cy="619.94" r="1.4"/>
<circle cx="69.14" cy="613.51" r="1.4"/>
<circle cx="88.55" cy="620.92" r="1.4"/>
<circle cx="100.06" cy="621.45" r="1.4"/>
<circle cx="97.64" cy="620.54" r="1.4"/>
<circle cx="102.14" cy="615.7" r="1.4"/>
<circle cx="103.63" cy="621.49" r="1.4"/>
<circle cx="81.27" cy="618.48" r="1.4"/>
<circle cx="74.86" cy="616.77" r="1.4"/>
<circle cx="76.07" cy="623.08" r="1.4"/>
<circle cx="105.11" cy="619.33" r="1.4"/>
<circle cx="80.25" cy="615.79" r="1.4"/>
<circle cx="82.85" cy="623.01" r="1.4"/>
<circle cx="96.43" cy="616.06" r="1.4"/>
<circle cx="66.65" cy="622.43" r="1.4"/>
<circle cx="66.3" cy="617.16" r="1.4"/>
<circle cx="73.16" cy="622.49" r="1.4"/>
<circle cx="94.94" cy="623.18" r="1.4"/>
<circle cx="99.02" cy="616.12" r="1.4"/>
<circle cx="88.75" cy="614.15" r="1.4"/>
<circle cx="67.21" cy="619.85" r="1.4"/>
<circle cx="79.74" cy="622.73" r="1.4"/>
<circle cx="84.72" cy="614.05" r="1.4"/>
<circle cx="92.14" cy="622.78" r="1.4"/>
<circle cx="84.8" cy="619.33" r="1.4"/>
<circle cx="93.17" cy="616.9" r="1.4"/>
<circle cx="89.73" cy="617.1" r="1.4"/>
<circle cx="102.81" cy="618.25" r="1.4"/>
<circle cx="73.13" cy="619.56" r="1.4"/>
</g>
<g stroke="#3a3a3a" stroke-width="1" fill="none">
<line x1="63.3" y1="188.2" x2="294.8" y2="42"/>
<line x1="371.5" y1="164.9" x2="648.8" y2="111.2"/>
<line x1="33.2" y1="401.5" x2="312" y2="264.1"/>
<line x1="385.5" y1="416.4" x2="665" y2="228"/>
<line x1="45.5" y1="636.1" x2="291.6" y2="580.6"/>
</g>
<rect x="288.6" y="119.35" width="6.2" height="6.2" fill="#ececec" stroke="#5a5a5a" stroke-width="0.9"/>
<text x="289.4" y="124.05" class="rl" textLength="4.6" lengthAdjust="spacingAndGlyphs">5.0</text>
<rect x="288.6" y="145.65" width="6.2" height="6.2" fill="#ececec" stroke="#5a5a5a" stroke-width="0.9"/>
<text x="289.4" y="150.35" class="rl" textLength="4.6" lengthAdjust="spacingAndGlyphs">3.0</text>
<rect x="190.23" y="13" width="6.4" height="6.2" fill="#ececec" stroke="#5a5a5a" stroke-width="0.9"/>
<text x="191.03" y="17.7" class="rl" textLength="4.8" lengthAdjust="spacingAndGlyphs">7.5</text>
<rect x="637.2" y="151.72" width="11.6" height="5.8" fill="#ececec" stroke="#5a5a5a" stroke-width="0.9"/>
<text x="638" y="156.22" class="rl" textLength="10" lengthAdjust="spacingAndGlyphs">150.0</text>
<rect x="567.05" y="1.4" width="11.3" height="6.2" fill="#ececec" stroke="#5a5a5a" stroke-width="0.9"/>
<text x="567.85" y="6.1" class="rl" textLength="9.7" lengthAdjust="spacingAndGlyphs">400.0</text>
<rect x="305.8" y="356.7" width="6.2" height="6.2" fill="#ececec" stroke="#5a5a5a" stroke-width="0.9"/>
<text x="306.6" y="361.4" class="rl" textLength="4.6" lengthAdjust="spacingAndGlyphs">2.4</text>
<rect x="138.03" y="228.2" width="6.4" height="6.2" fill="#ececec" stroke="#5a5a5a" stroke-width="0.9"/>
<text x="138.83" y="232.9" class="rl" textLength="4.8" lengthAdjust="spacingAndGlyphs">1.5</text>
<rect x="657.3" y="404.77" width="8.5" height="5.6" fill="#ececec" stroke="#5a5a5a" stroke-width="0.9"/>
<text x="658.1" y="409.18" class="rl" textLength="6.9" lengthAdjust="spacingAndGlyphs">0.23</text>
<rect x="401.9" y="228" width="8" height="6.2" fill="#ececec" stroke="#5a5a5a" stroke-width="0.9"/>
<text x="402.7" y="232.7" class="rl" textLength="6.4" lengthAdjust="spacingAndGlyphs">10.0</text>
<rect x="282.9" y="622.48" width="8.7" height="5.6" fill="#ececec" stroke="#5a5a5a" stroke-width="0.9"/>
<text x="283.7" y="626.88" class="rl" textLength="7.1" lengthAdjust="spacingAndGlyphs">0.22</text>
<rect x="99.8" y="472" width="6" height="5.3" fill="#ececec" stroke="#5a5a5a" stroke-width="0.9"/>
<text x="100.6" y="476.25" class="rl" textLength="4.4" lengthAdjust="spacingAndGlyphs">3.0</text>
<rect x="138.8" y="472" width="6" height="5.3" fill="#ececec" stroke="#5a5a5a" stroke-width="0.9"/>
<text x="139.6" y="476.25" class="rl" textLength="4.4" lengthAdjust="spacingAndGlyphs">5.0</text>
<rect x="493.2" y="135.9" width="35.2" height="6.5" fill="#fff" stroke="#777" stroke-width="0.7"/>
<text x="494.3" y="141.0" class="eq" textLength="33" lengthAdjust="spacingAndGlyphs">y=81.88+0.53*x</text>
<text x="295.4" y="18.5" class="r2" textLength="32.4" lengthAdjust="spacingAndGlyphs">R<tspan dy="-1.6" font-size="3">2</tspan><tspan dy="1.6"> Linear = 0.335</tspan></text>
<text x="649.4" y="6.9" class="r2" textLength="34.6" lengthAdjust="spacingAndGlyphs">R<tspan dy="-1.6" font-size="3">2</tspan><tspan dy="1.6"> Linear = 0.101</tspan></text>
<text x="312.5" y="233.7" class="r2" textLength="16.0" lengthAdjust="spacingAndGlyphs">R<tspan dy="-1.6" font-size="3">2</tspan><tspan dy="1.6"> Lines</tspan></text>
<text x="666.4" y="233.7" class="r2" textLength="17.0" lengthAdjust="spacingAndGlyphs">R<tspan dy="-1.6" font-size="3">2</tspan><tspan dy="1.6"> Lines</tspan></text>
<text x="292.3" y="476.5" class="r2" textLength="31.5" lengthAdjust="spacingAndGlyphs">R<tspan dy="-1.6" font-size="3">2</tspan><tspan dy="1.6"> Linear = 0.134</tspan></text>
<text x="140.6" y="208.0" class="at" textLength="47.5" lengthAdjust="spacingAndGlyphs">neutrophil count</text>
<text transform="translate(15,106.9) rotate(-90)" class="at" textLength="13.7" lengthAdjust="spacingAndGlyphs">NLR</text>
<text x="489.8" y="208.0" class="at" textLength="41.2" lengthAdjust="spacingAndGlyphs">platelet count</text>
<text transform="translate(349.5,100.5) rotate(-90)" class="at" textLength="12.3" lengthAdjust="spacingAndGlyphs">PLR</text>
<text x="145.3" y="439.0" class="at" textLength="54.1" lengthAdjust="spacingAndGlyphs">lymphocyte count</text>
<text transform="translate(15.7,330.3) rotate(-90)" class="at" textLength="14" lengthAdjust="spacingAndGlyphs">LMR</text>
<text x="507.4" y="436.6" class="at" textLength="19.7" lengthAdjust="spacingAndGlyphs">precrp</text>
<text transform="translate(350,328.9) rotate(-90)" class="at" textLength="14" lengthAdjust="spacingAndGlyphs">CAR</text>
<text x="155.5" y="654.5" class="at" textLength="12.1" lengthAdjust="spacingAndGlyphs">NLR</text>
<text transform="translate(14.7,560.7) rotate(-90)" class="at" textLength="12.9" lengthAdjust="spacingAndGlyphs">CAR</text>
<text x="1.0" y="226.3" class="cl">a</text>
<text x="13.6" y="226.0" class="ct" textLength="75.2" lengthAdjust="spacingAndGlyphs">rs=0.556, p&lt;0.001</text>
<text x="333.4" y="225.8" class="cl">b</text>
<text x="347.6" y="225.8" class="ct" textLength="76.2" lengthAdjust="spacingAndGlyphs">rs=0.356, p&lt;0.001</text>
<text x="1.0" y="457.0" class="cl">c</text>
<text x="13.6" y="457.0" class="ct" textLength="75.2" lengthAdjust="spacingAndGlyphs">rs=0.744, p&lt;0.001</text>
<text x="333.4" y="456.5" class="cl">d</text>
<text x="347.6" y="455.3" class="ct" textLength="75.4" lengthAdjust="spacingAndGlyphs">rs=0.989, p&lt;0.001</text>
<text x="0.8" y="672.1" class="cl">e</text>
<text x="13.6" y="670.3" class="ct" textLength="70.6" lengthAdjust="spacingAndGlyphs">rs=0.103, p&lt;0.05</text>
</svg></body></html>
